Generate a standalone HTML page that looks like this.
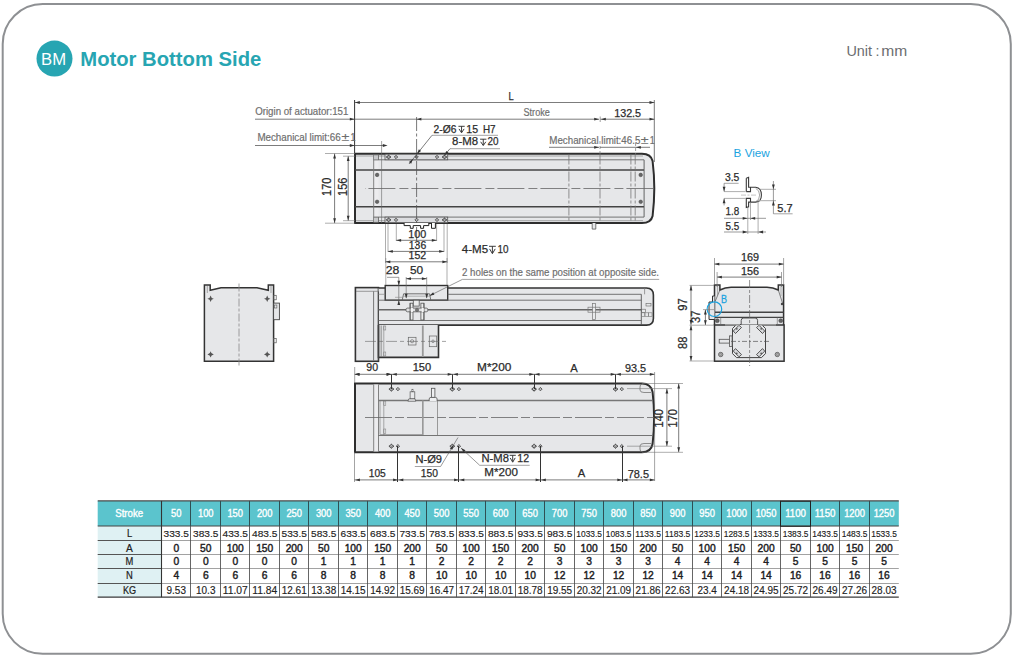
<!DOCTYPE html>
<html><head><meta charset="utf-8"><style>
html,body{margin:0;padding:0;background:#fff;width:1014px;height:658px;overflow:hidden;position:relative}
text{font-family:"Liberation Sans",sans-serif}
</style></head><body>
<svg width="1014" height="658" viewBox="0 0 1014 658" style="position:absolute;left:0;top:0">
<rect x="2.7" y="4.0" width="1008.1" height="649.8" rx="40" ry="40" fill="#fff" stroke="#8e9093" stroke-width="2"/>
<circle cx="54.5" cy="58.6" r="18" fill="#27a5b2"/>
<text x="53.6" y="64.6" font-family="Liberation Sans" font-size="16" fill="#fff" text-anchor="middle" font-weight="normal" textLength="25" lengthAdjust="spacingAndGlyphs" >BM</text>
<text x="80.3" y="65.8" font-family="Liberation Sans" font-size="20" fill="#27a5b2" text-anchor="start" font-weight="bold" textLength="181" lengthAdjust="spacingAndGlyphs" >Motor Bottom Side</text>
<text x="846.4" y="56" font-family="Liberation Sans" font-size="14.4" fill="#6b6d70" text-anchor="start" font-weight="normal" textLength="25.6" lengthAdjust="spacingAndGlyphs" >Unit</text>
<text x="877.6" y="56" font-family="Liberation Sans" font-size="14.2" fill="#6b6d70" text-anchor="middle" font-weight="normal" >:</text>
<text x="881.2" y="56" font-family="Liberation Sans" font-size="14.4" fill="#6b6d70" text-anchor="start" font-weight="normal" textLength="26" lengthAdjust="spacingAndGlyphs" >mm</text>
<path d="M355,153.8 H642 Q651,154 652.6,161 Q656,188.5 652.6,216 Q651,223 642,223.1 H355 Z" fill="#e6e7e9" stroke="#2e2e2e" stroke-width="2.0" />
<rect x="373.7" y="156" width="4.8" height="65" fill="#ececee" stroke="none" stroke-width="0"/>
<line x1="356" y1="156.0" x2="643" y2="156.0" stroke="#777" stroke-width="0.6" stroke-linecap="butt"/>
<line x1="373.4" y1="159.8" x2="644" y2="159.8" stroke="#666" stroke-width="0.9" stroke-linecap="butt"/>
<line x1="355" y1="170.0" x2="644" y2="170.0" stroke="#444" stroke-width="1.5" stroke-linecap="butt"/>
<line x1="355" y1="206.8" x2="644" y2="206.8" stroke="#444" stroke-width="1.5" stroke-linecap="butt"/>
<line x1="373.4" y1="217.1" x2="644" y2="217.1" stroke="#666" stroke-width="0.9" stroke-linecap="butt"/>
<line x1="356" y1="220.7" x2="643" y2="220.7" stroke="#777" stroke-width="0.6" stroke-linecap="butt"/>
<line x1="373.7" y1="155" x2="373.7" y2="222" stroke="#777" stroke-width="0.9" stroke-linecap="butt"/>
<rect x="373.7" y="155" width="4.8" height="4.8" fill="#c9cacc" stroke="#777" stroke-width="0.6"/>
<rect x="373.7" y="217.4" width="4.8" height="4.8" fill="#c9cacc" stroke="#777" stroke-width="0.6"/>
<line x1="378.5" y1="155" x2="378.5" y2="160" stroke="#666" stroke-width="0.7" stroke-linecap="butt"/>
<line x1="378.5" y1="217" x2="378.5" y2="222" stroke="#666" stroke-width="0.7" stroke-linecap="butt"/>
<line x1="644.1" y1="159.8" x2="644.1" y2="217.1" stroke="#555" stroke-width="0.9" stroke-linecap="butt"/>
<circle cx="377.1" cy="174.9" r="1.8" fill="#666" stroke="#444" stroke-width="0.5"/>
<circle cx="640.7" cy="174.9" r="1.8" fill="#666" stroke="#444" stroke-width="0.5"/>
<circle cx="377.1" cy="201.8" r="1.8" fill="#666" stroke="#444" stroke-width="0.5"/>
<circle cx="640.7" cy="201.8" r="1.8" fill="#666" stroke="#444" stroke-width="0.5"/>
<rect x="385" y="154.2" width="62.7" height="5.6" fill="#dcdde0" stroke="#555" stroke-width="0.8"/>
<rect x="385" y="217.1" width="62.7" height="5.6" fill="#dcdde0" stroke="#555" stroke-width="0.8"/>
<circle cx="388.6" cy="157.0" r="1.5" fill="none" stroke="#333" stroke-width="0.8"/>
<path d="M386.20000000000005,157.0 L387.1,156.4 M386.20000000000005,157.0 L387.1,157.6 M391.0,157.0 L390.1,156.4 M391.0,157.0 L390.1,157.6 M388.6,154.6 V155.5 M388.6,159.4 V158.5" stroke="#333" stroke-width="0.7"/>
<circle cx="388.6" cy="157.0" r="0.7" fill="#888"/>
<polygon points="396,155.3 397.7,157.0 396,158.7 394.3,157.0" fill="none" stroke="#333" stroke-width="0.8"/>
<circle cx="396" cy="157.0" r="0.9" fill="none" stroke="#777" stroke-width="0.5"/>
<polygon points="416.6,155.3 418.3,157.0 416.6,158.7 414.90000000000003,157.0" fill="none" stroke="#333" stroke-width="0.8"/>
<circle cx="416.6" cy="157.0" r="0.9" fill="none" stroke="#777" stroke-width="0.5"/>
<polygon points="437,155.3 438.7,157.0 437,158.7 435.3,157.0" fill="none" stroke="#333" stroke-width="0.8"/>
<circle cx="437" cy="157.0" r="0.9" fill="none" stroke="#777" stroke-width="0.5"/>
<circle cx="444.5" cy="157.0" r="1.5" fill="none" stroke="#333" stroke-width="0.8"/>
<path d="M442.1,157.0 L443.0,156.4 M442.1,157.0 L443.0,157.6 M446.9,157.0 L446.0,156.4 M446.9,157.0 L446.0,157.6 M444.5,154.6 V155.5 M444.5,159.4 V158.5" stroke="#333" stroke-width="0.7"/>
<circle cx="444.5" cy="157.0" r="0.7" fill="#888"/>
<circle cx="388.6" cy="219.9" r="1.5" fill="none" stroke="#333" stroke-width="0.8"/>
<path d="M386.20000000000005,219.9 L387.1,219.3 M386.20000000000005,219.9 L387.1,220.5 M391.0,219.9 L390.1,219.3 M391.0,219.9 L390.1,220.5 M388.6,217.5 V218.4 M388.6,222.3 V221.4" stroke="#333" stroke-width="0.7"/>
<circle cx="388.6" cy="219.9" r="0.7" fill="#888"/>
<polygon points="396,218.20000000000002 397.7,219.9 396,221.6 394.3,219.9" fill="none" stroke="#333" stroke-width="0.8"/>
<circle cx="396" cy="219.9" r="0.9" fill="none" stroke="#777" stroke-width="0.5"/>
<polygon points="416.6,218.20000000000002 418.3,219.9 416.6,221.6 414.90000000000003,219.9" fill="none" stroke="#333" stroke-width="0.8"/>
<circle cx="416.6" cy="219.9" r="0.9" fill="none" stroke="#777" stroke-width="0.5"/>
<polygon points="437,218.20000000000002 438.7,219.9 437,221.6 435.3,219.9" fill="none" stroke="#333" stroke-width="0.8"/>
<circle cx="437" cy="219.9" r="0.9" fill="none" stroke="#777" stroke-width="0.5"/>
<circle cx="444.5" cy="219.9" r="1.5" fill="none" stroke="#333" stroke-width="0.8"/>
<path d="M442.1,219.9 L443.0,219.3 M442.1,219.9 L443.0,220.5 M446.9,219.9 L446.0,219.3 M446.9,219.9 L446.0,220.5 M444.5,217.5 V218.4 M444.5,222.3 V221.4" stroke="#333" stroke-width="0.7"/>
<circle cx="444.5" cy="219.9" r="0.7" fill="#888"/>
<line x1="365" y1="188.5" x2="655" y2="188.5" stroke="#666" stroke-width="0.8" stroke-dasharray="27 4 9 3" stroke-dashoffset="39.6"/>
<line x1="416.6" y1="117" x2="416.6" y2="246" stroke="#555" stroke-width="0.8" stroke-dasharray="14 2.5 3 2.5" stroke-linecap="butt"/>
<line x1="568.9" y1="154.5" x2="568.9" y2="222.5" stroke="#777" stroke-width="0.8" stroke-dasharray="10 2 3 2" stroke-linecap="butt"/>
<line x1="600" y1="154.5" x2="600" y2="222.5" stroke="#777" stroke-width="0.8" stroke-dasharray="10 2 3 2" stroke-linecap="butt"/>
<line x1="630.9" y1="154.5" x2="630.9" y2="222.5" stroke="#777" stroke-width="0.8" stroke-dasharray="10 2 3 2" stroke-linecap="butt"/>
<line x1="635.2" y1="154.5" x2="635.2" y2="222.5" stroke="#777" stroke-width="0.8" stroke-dasharray="10 2 3 2" stroke-linecap="butt"/>
<line x1="381.6" y1="141" x2="381.6" y2="223" stroke="#666" stroke-width="0.6" stroke-linecap="butt"/>
<path d="M404.1,223 V225.6 H410.3 V228.3 H413.2 V225.6 H420.6 V228.3 H423.6 V225.6 H428.8 V223 M431.5,223 V228.3 H435.4 V223" fill="#fff" stroke="#222" stroke-width="1.0" />
<path d="M592.2,223 V229.1 H595.8 V223" fill="#e6e7e9" stroke="#555" stroke-width="0.8" />
<line x1="354.6" y1="100" x2="354.6" y2="154" stroke="#333" stroke-width="1.0" stroke-linecap="butt"/>
<line x1="654.3" y1="100" x2="654.3" y2="162" stroke="#555" stroke-width="0.8" stroke-linecap="butt"/>
<line x1="355" y1="102.5" x2="654.3" y2="102.5" stroke="#444" stroke-width="0.7" stroke-linecap="butt"/>
<polygon points="355.00,102.50 359.80,101.10 359.80,103.90" fill="#333"/>
<polygon points="654.30,102.50 649.50,101.10 649.50,103.90" fill="#333"/>
<text x="511" y="100.2" font-family="Liberation Sans" font-size="11" fill="#2b2b2b" text-anchor="middle" font-weight="normal" textLength="5.2" lengthAdjust="spacingAndGlyphs"  stroke="#2b2b2b" stroke-width="0.25">L</text>
<line x1="255" y1="119.2" x2="599" y2="119.2" stroke="#444" stroke-width="0.7" stroke-linecap="butt"/>
<polygon points="354.60,119.20 349.80,117.80 349.80,120.60" fill="#333"/>
<polygon points="416.60,119.20 421.40,117.80 421.40,120.60" fill="#333"/>
<polygon points="599.00,119.20 594.20,117.80 594.20,120.60" fill="#333"/>
<line x1="600.2" y1="116.5" x2="600.2" y2="122" stroke="#777" stroke-width="0.7" stroke-linecap="butt"/>
<line x1="600.5" y1="119.2" x2="654.3" y2="119.2" stroke="#444" stroke-width="0.7" stroke-linecap="butt"/>
<polygon points="601.00,119.20 605.80,117.80 605.80,120.60" fill="#333"/>
<polygon points="654.30,119.20 649.50,117.80 649.50,120.60" fill="#333"/>
<text x="523.5" y="115.9" font-family="Liberation Sans" font-size="10" fill="#6e6e6e" text-anchor="start" font-weight="normal" textLength="26.3" lengthAdjust="spacingAndGlyphs"  stroke="#6e6e6e" stroke-width="0.18">Stroke</text>
<text x="614.2" y="116.6" font-family="Liberation Sans" font-size="11" fill="#2b2b2b" text-anchor="start" font-weight="normal" textLength="26.9" lengthAdjust="spacingAndGlyphs"  stroke="#2b2b2b" stroke-width="0.25">132.5</text>
<text x="255.2" y="114.9" font-family="Liberation Sans" font-size="10" fill="#6e6e6e" text-anchor="start" font-weight="normal" textLength="93.2" lengthAdjust="spacingAndGlyphs"  stroke="#6e6e6e" stroke-width="0.18">Origin of actuator:151</text>
<line x1="255" y1="145.5" x2="383" y2="145.5" stroke="#444" stroke-width="0.7" stroke-linecap="butt"/>
<polygon points="354.60,145.50 349.80,144.10 349.80,146.90" fill="#333"/>
<polygon points="387.60,145.50 382.80,144.10 382.80,146.90" fill="#333"/>
<text x="257.4" y="140.7" font-family="Liberation Sans" font-size="10" fill="#6e6e6e" text-anchor="start" font-weight="normal" textLength="83.2" lengthAdjust="spacingAndGlyphs"  stroke="#6e6e6e" stroke-width="0.18">Mechanical limit:66</text>
<text x="341.6" y="140.7" font-family="Liberation Sans" font-size="11" fill="#6e6e6e" text-anchor="start" font-weight="normal" textLength="7.8" lengthAdjust="spacingAndGlyphs"  stroke="#6e6e6e" stroke-width="0.12">±</text>
<text x="350.6" y="140.7" font-family="Liberation Sans" font-size="10" fill="#6e6e6e" text-anchor="start" font-weight="normal" textLength="5" lengthAdjust="spacingAndGlyphs"  stroke="#6e6e6e" stroke-width="0.18">1</text>
<line x1="549" y1="147.3" x2="599" y2="147.3" stroke="#444" stroke-width="0.7" stroke-linecap="butt"/>
<polygon points="599.00,147.30 594.20,145.90 594.20,148.70" fill="#333"/>
<line x1="600" y1="141" x2="600" y2="154" stroke="#777" stroke-width="0.7" stroke-dasharray="3 2" stroke-linecap="butt"/>
<line x1="600" y1="147.3" x2="650" y2="147.3" stroke="#444" stroke-width="0.7" stroke-linecap="butt"/>
<polygon points="636.00,147.30 640.80,145.90 640.80,148.70" fill="#333"/>
<line x1="635.6" y1="143" x2="635.6" y2="154" stroke="#777" stroke-width="0.7" stroke-dasharray="3 2" stroke-linecap="butt"/>
<text x="549.3" y="143.6" font-family="Liberation Sans" font-size="10" fill="#6e6e6e" text-anchor="start" font-weight="normal" textLength="91" lengthAdjust="spacingAndGlyphs"  stroke="#6e6e6e" stroke-width="0.18">Mechanical limit:46.5</text>
<text x="640.7" y="143.6" font-family="Liberation Sans" font-size="11" fill="#6e6e6e" text-anchor="start" font-weight="normal" textLength="7.8" lengthAdjust="spacingAndGlyphs"  stroke="#6e6e6e" stroke-width="0.12">±</text>
<text x="649.8" y="143.6" font-family="Liberation Sans" font-size="10" fill="#6e6e6e" text-anchor="start" font-weight="normal" textLength="5" lengthAdjust="spacingAndGlyphs"  stroke="#6e6e6e" stroke-width="0.18">1</text>
<line x1="325" y1="153.5" x2="355" y2="153.5" stroke="#777" stroke-width="0.6" stroke-linecap="butt"/>
<line x1="325" y1="223.2" x2="355" y2="223.2" stroke="#777" stroke-width="0.6" stroke-linecap="butt"/>
<line x1="334.6" y1="153.7" x2="334.6" y2="223.1" stroke="#444" stroke-width="0.7" stroke-linecap="butt"/>
<polygon points="334.60,153.70 333.20,158.50 336.00,158.50" fill="#333"/>
<polygon points="334.60,223.10 333.20,218.30 336.00,218.30" fill="#333"/>
<line x1="343" y1="156.2" x2="355" y2="156.2" stroke="#777" stroke-width="0.6" stroke-linecap="butt"/>
<line x1="343" y1="220.7" x2="355" y2="220.7" stroke="#777" stroke-width="0.6" stroke-linecap="butt"/>
<line x1="348.2" y1="156.3" x2="348.2" y2="220.6" stroke="#444" stroke-width="0.7" stroke-linecap="butt"/>
<polygon points="348.20,156.30 346.80,161.10 349.60,161.10" fill="#333"/>
<polygon points="348.20,220.60 346.80,215.80 349.60,215.80" fill="#333"/>
<text x="331.5" y="186.8" font-family="Liberation Sans" font-size="12" fill="#2b2b2b" text-anchor="middle" font-weight="normal" textLength="18.4" lengthAdjust="spacingAndGlyphs" transform="rotate(-90 331.5 186.8)"  stroke="#2b2b2b" stroke-width="0.25">170</text>
<text x="347.2" y="186.8" font-family="Liberation Sans" font-size="12" fill="#2b2b2b" text-anchor="middle" font-weight="normal" textLength="18.4" lengthAdjust="spacingAndGlyphs" transform="rotate(-90 347.2 186.8)"  stroke="#2b2b2b" stroke-width="0.25">156</text>
<text x="433.6" y="132.6" font-family="Liberation Sans" font-size="11" fill="#2b2b2b" text-anchor="start" font-weight="normal" textLength="22.8" lengthAdjust="spacingAndGlyphs"  stroke="#2b2b2b" stroke-width="0.25">2-Ø6</text>
<path d="M458.4,126.3 H464.7 M461.54999999999995,126.3 V132.20000000000002 M459.0,128.9 L461.54999999999995,132.8 L464.09999999999997,128.9" fill="none" stroke="#333" stroke-width="0.95"/>
<text x="466.3" y="132.6" font-family="Liberation Sans" font-size="11" fill="#2b2b2b" text-anchor="start" font-weight="normal" textLength="11.8" lengthAdjust="spacingAndGlyphs"  stroke="#2b2b2b" stroke-width="0.25">15</text>
<text x="482.9" y="132.6" font-family="Liberation Sans" font-size="11" fill="#2b2b2b" text-anchor="start" font-weight="normal" textLength="12.6" lengthAdjust="spacingAndGlyphs"  stroke="#2b2b2b" stroke-width="0.25">H7</text>
<line x1="432" y1="135.3" x2="498" y2="135.3" stroke="#666" stroke-width="0.6" stroke-linecap="butt"/>
<line x1="432" y1="135.3" x2="409" y2="164" stroke="#444" stroke-width="0.7" stroke-linecap="butt"/>
<polygon points="417.00,154.00 418.85,149.36 421.06,151.08" fill="#333"/>
<polygon points="413.00,159.00 411.15,163.64 408.94,161.92" fill="#333"/>
<text x="452.1" y="145.3" font-family="Liberation Sans" font-size="11.5" fill="#2b2b2b" text-anchor="start" font-weight="normal" textLength="26" lengthAdjust="spacingAndGlyphs"  stroke="#2b2b2b" stroke-width="0.25">8-M8</text>
<path d="M480.1,139.2 H486.4 M483.25,139.2 V145.0 M480.70000000000005,141.79999999999998 L483.25,145.6 L485.79999999999995,141.79999999999998" fill="none" stroke="#333" stroke-width="0.95"/>
<text x="487.6" y="145.3" font-family="Liberation Sans" font-size="11.5" fill="#2b2b2b" text-anchor="start" font-weight="normal" textLength="11" lengthAdjust="spacingAndGlyphs"  stroke="#2b2b2b" stroke-width="0.25">20</text>
<line x1="450" y1="148.7" x2="500" y2="148.7" stroke="#666" stroke-width="0.6" stroke-linecap="butt"/>
<line x1="450" y1="148.7" x2="444.3" y2="155.5" stroke="#444" stroke-width="0.7" stroke-linecap="butt"/>
<polygon points="444.30,155.50 446.31,150.92 448.46,152.72" fill="#333"/>
<line x1="396.3" y1="224" x2="396.3" y2="241" stroke="#777" stroke-width="0.6" stroke-linecap="butt"/>
<line x1="436.6" y1="224" x2="436.6" y2="241" stroke="#777" stroke-width="0.6" stroke-linecap="butt"/>
<line x1="388" y1="224" x2="388" y2="252" stroke="#777" stroke-width="0.6" stroke-linecap="butt"/>
<line x1="444" y1="224" x2="444" y2="252" stroke="#777" stroke-width="0.6" stroke-linecap="butt"/>
<line x1="385.5" y1="224" x2="385.5" y2="263" stroke="#777" stroke-width="0.6" stroke-linecap="butt"/>
<line x1="447.2" y1="224" x2="447.2" y2="263" stroke="#777" stroke-width="0.6" stroke-linecap="butt"/>
<line x1="396.3" y1="240.3" x2="436.6" y2="240.3" stroke="#444" stroke-width="0.7" stroke-linecap="butt"/>
<polygon points="396.30,240.30 401.10,238.90 401.10,241.70" fill="#333"/>
<polygon points="436.60,240.30 431.80,238.90 431.80,241.70" fill="#333"/>
<line x1="388" y1="251.4" x2="444" y2="251.4" stroke="#444" stroke-width="0.7" stroke-linecap="butt"/>
<polygon points="388.00,251.40 392.80,250.00 392.80,252.80" fill="#333"/>
<polygon points="444.00,251.40 439.20,250.00 439.20,252.80" fill="#333"/>
<line x1="385.5" y1="261.8" x2="447.2" y2="261.8" stroke="#444" stroke-width="0.7" stroke-linecap="butt"/>
<polygon points="385.50,261.80 390.30,260.40 390.30,263.20" fill="#333"/>
<polygon points="447.20,261.80 442.40,260.40 442.40,263.20" fill="#333"/>
<text x="408.2" y="237.8" font-family="Liberation Sans" font-size="11" fill="#2b2b2b" text-anchor="start" font-weight="normal" textLength="18" lengthAdjust="spacingAndGlyphs"  stroke="#2b2b2b" stroke-width="0.25">100</text>
<text x="408.8" y="249.2" font-family="Liberation Sans" font-size="11" fill="#2b2b2b" text-anchor="start" font-weight="normal" textLength="17.4" lengthAdjust="spacingAndGlyphs"  stroke="#2b2b2b" stroke-width="0.25">136</text>
<text x="408.5" y="258.8" font-family="Liberation Sans" font-size="11" fill="#2b2b2b" text-anchor="start" font-weight="normal" textLength="17.7" lengthAdjust="spacingAndGlyphs"  stroke="#2b2b2b" stroke-width="0.25">152</text>
<text x="461.8" y="252.8" font-family="Liberation Sans" font-size="11.5" fill="#2b2b2b" text-anchor="start" font-weight="normal" textLength="26.3" lengthAdjust="spacingAndGlyphs"  stroke="#2b2b2b" stroke-width="0.25">4-M5</text>
<path d="M489,246.3 H495.8 M492.4,246.3 V253.1 M489.6,248.9 L492.4,253.7 L495.2,248.9" fill="none" stroke="#333" stroke-width="0.95"/>
<text x="497.6" y="252.8" font-family="Liberation Sans" font-size="11.5" fill="#2b2b2b" text-anchor="start" font-weight="normal" textLength="11" lengthAdjust="spacingAndGlyphs"  stroke="#2b2b2b" stroke-width="0.25">10</text>
<rect x="355.4" y="287.6" width="23.1" height="73.7" fill="#e6e7e9" stroke="#333" stroke-width="1.6"/>
<path d="M378.5,288 H646.5 Q653.4,288.2 653.4,295 V318.5 Q653.4,325 646.5,325.1 H378.5" fill="#e6e7e9" stroke="#333" stroke-width="1.6" />
<path d="M378.5,325.1 V357.4 H438.5 V325.1" fill="#e6e7e9" stroke="#333" stroke-width="1.6" />
<rect x="385.2" y="285.5" width="62.5" height="14.7" fill="#e6e7e9" stroke="#333" stroke-width="1.4"/>
<path d="M402.2,300.2 L403.6,293.8 H429.6 L430.8,300.2" fill="none" stroke="#555" stroke-width="0.8" />
<line x1="403.2" y1="296.2" x2="430.2" y2="296.2" stroke="#888" stroke-width="0.6" stroke-linecap="butt"/>
<line x1="373.6" y1="291.3" x2="373.6" y2="361" stroke="#777" stroke-width="1.0" stroke-linecap="butt"/>
<line x1="378.5" y1="291.3" x2="378.5" y2="361" stroke="#444" stroke-width="0.9" stroke-linecap="butt"/>
<line x1="356" y1="291.3" x2="378.5" y2="291.3" stroke="#777" stroke-width="0.7" stroke-linecap="butt"/>
<line x1="378.5" y1="294.3" x2="385.2" y2="294.3" stroke="#888" stroke-width="0.7" stroke-linecap="butt"/>
<line x1="447.7" y1="294.3" x2="641.3" y2="294.3" stroke="#666" stroke-width="0.9" stroke-linecap="butt"/>
<line x1="378.5" y1="300.2" x2="641.3" y2="300.2" stroke="#666" stroke-width="0.9" stroke-linecap="butt"/>
<line x1="378.5" y1="309.8" x2="641.3" y2="309.8" stroke="#666" stroke-width="1.6" stroke-linecap="butt"/>
<line x1="378.5" y1="320.5" x2="641.3" y2="320.5" stroke="#666" stroke-width="0.9" stroke-linecap="butt"/>
<line x1="641.3" y1="294.3" x2="641.3" y2="325" stroke="#555" stroke-width="0.9" stroke-linecap="butt"/>
<line x1="644.6" y1="288" x2="644.6" y2="294.3" stroke="#777" stroke-width="0.7" stroke-linecap="butt"/>
<rect x="646" y="303.4" width="5" height="2.6" fill="none" stroke="#666" stroke-width="0.6"/>
<rect x="641.3" y="309.2" width="4" height="3.2" fill="none" stroke="#666" stroke-width="0.6"/>
<rect x="641.3" y="312.8" width="3.5" height="3.6" fill="none" stroke="#777" stroke-width="0.6"/>
<rect x="645" y="312.8" width="3.5" height="3.6" fill="none" stroke="#777" stroke-width="0.6"/>
<rect x="648.5" y="312.8" width="3.5" height="3.6" fill="none" stroke="#777" stroke-width="0.6"/>
<rect x="410.1" y="303.2" width="2.9" height="16.8" fill="#eceded" stroke="#555" stroke-width="0.8"/>
<rect x="420.9" y="303.2" width="3.0" height="16.8" fill="#eceded" stroke="#555" stroke-width="0.8"/>
<rect x="413.3" y="300.2" width="5.9" height="5.9" fill="#eceded" stroke="#555" stroke-width="0.8"/>
<rect x="406" y="308.1" width="21.8" height="3.7" fill="#e0e1e3" stroke="#555" stroke-width="0.8" rx="1.5"/>
<line x1="410.1" y1="303.2" x2="410.1" y2="320" stroke="#555" stroke-width="0.8" stroke-linecap="butt"/>
<line x1="424" y1="303.2" x2="424" y2="320" stroke="#555" stroke-width="0.8" stroke-linecap="butt"/>
<rect x="410.9" y="307.9" width="2" height="4.1" fill="#f4f4f4" stroke="none" stroke-width="0"/>
<rect x="421.7" y="307.9" width="2" height="4.1" fill="#f4f4f4" stroke="none" stroke-width="0"/>
<circle cx="417" cy="309.9" r="1.7" fill="#777" stroke="#555" stroke-width="0.5"/>
<rect x="592.5" y="303.4" width="3.1" height="16.1" fill="#e9eaec" stroke="#777" stroke-width="0.7"/>
<rect x="588" y="307.2" width="12" height="5" fill="none" stroke="#777" stroke-width="0.7"/>
<line x1="422.8" y1="325.5" x2="422.8" y2="357" stroke="#999" stroke-width="1.8" stroke-linecap="butt"/>
<line x1="380" y1="325.5" x2="380" y2="357" stroke="#777" stroke-width="0.6" stroke-linecap="butt"/>
<line x1="381.6" y1="325.5" x2="381.6" y2="357" stroke="#777" stroke-width="0.6" stroke-linecap="butt"/>
<line x1="383.8" y1="325.5" x2="383.8" y2="357" stroke="#777" stroke-width="0.6" stroke-linecap="butt"/>
<rect x="383.8" y="326" width="2" height="4" fill="none" stroke="#777" stroke-width="0.5"/>
<rect x="383.8" y="352" width="2" height="4" fill="none" stroke="#777" stroke-width="0.5"/>
<line x1="365" y1="341.4" x2="446" y2="341.4" stroke="#666" stroke-width="0.6" stroke-dasharray="11 3 4 3" stroke-linecap="butt"/>
<rect x="408.3" y="337.3" width="7.7" height="7.7" fill="none" stroke="#666" stroke-width="0.7"/>
<circle cx="412.1" cy="341.2" r="1.6" fill="none" stroke="#666" stroke-width="0.6"/>
<rect x="429.3" y="336" width="7.4" height="10.7" fill="none" stroke="#666" stroke-width="0.7"/>
<circle cx="433" cy="341.3" r="1.3" fill="none" stroke="#666" stroke-width="0.6"/>
<text x="385.8" y="273.7" font-family="Liberation Sans" font-size="11" fill="#2b2b2b" text-anchor="start" font-weight="normal" textLength="13.6" lengthAdjust="spacingAndGlyphs"  stroke="#2b2b2b" stroke-width="0.25">28</text>
<text x="409.9" y="273.7" font-family="Liberation Sans" font-size="11" fill="#2b2b2b" text-anchor="start" font-weight="normal" textLength="13.2" lengthAdjust="spacingAndGlyphs"  stroke="#2b2b2b" stroke-width="0.25">50</text>
<line x1="387" y1="277.3" x2="398.8" y2="277.3" stroke="#555" stroke-width="0.6" stroke-linecap="butt"/>
<line x1="398.8" y1="277.3" x2="398.8" y2="304" stroke="#555" stroke-width="0.6" stroke-linecap="butt"/>
<polygon points="398.80,285.50 397.40,280.70 400.20,280.70" fill="#333"/>
<polygon points="398.80,300.20 397.40,305.00 400.20,305.00" fill="#333"/>
<line x1="406.2" y1="277" x2="406.2" y2="298" stroke="#666" stroke-width="0.6" stroke-linecap="butt"/>
<line x1="426.7" y1="277" x2="426.7" y2="298" stroke="#666" stroke-width="0.6" stroke-linecap="butt"/>
<line x1="406.2" y1="278.7" x2="426.7" y2="278.7" stroke="#444" stroke-width="0.7" stroke-linecap="butt"/>
<polygon points="406.20,278.70 411.00,277.30 411.00,280.10" fill="#333"/>
<polygon points="426.70,278.70 421.90,277.30 421.90,280.10" fill="#333"/>
<polygon points="406.20,298.50 404.80,293.70 407.60,293.70" fill="#333"/>
<polygon points="426.70,298.50 425.30,293.70 428.10,293.70" fill="#333"/>
<line x1="395" y1="297.3" x2="403" y2="297.3" stroke="#888" stroke-width="0.6" stroke-linecap="butt"/>
<text x="462" y="275.8" font-family="Liberation Sans" font-size="10" fill="#6e6e6e" text-anchor="start" font-weight="normal" textLength="197" lengthAdjust="spacingAndGlyphs"  stroke="#6e6e6e" stroke-width="0.18">2 holes on the same position at opposite side.</text>
<line x1="462.4" y1="279.4" x2="659.2" y2="279.4" stroke="#666" stroke-width="0.6" stroke-linecap="butt"/>
<line x1="462.4" y1="279.4" x2="430" y2="295.5" stroke="#555" stroke-width="0.6" stroke-linecap="butt"/>
<polygon points="429.50,295.80 433.14,292.37 434.41,294.87" fill="#333"/>
<line x1="385.8" y1="258" x2="385.8" y2="285" stroke="#777" stroke-width="0.6" stroke-linecap="butt"/>
<line x1="447" y1="258" x2="447" y2="285" stroke="#777" stroke-width="0.6" stroke-linecap="butt"/>
<path d="M355,383.5 H642 Q651,383.6 652.6,392 Q655.6,418 652.6,444 Q651,452.2 642,452.3 H355 Z" fill="#e6e7e9" stroke="#2e2e2e" stroke-width="2.0" />
<rect x="373.7" y="384.5" width="4.8" height="67" fill="#ececee" stroke="none" stroke-width="0"/>
<line x1="373.7" y1="384.5" x2="373.7" y2="451.5" stroke="#777" stroke-width="0.9" stroke-linecap="butt"/>
<line x1="378.5" y1="384.5" x2="378.5" y2="451.5" stroke="#666" stroke-width="0.8" stroke-linecap="butt"/>
<line x1="378.5" y1="400.5" x2="652" y2="400.5" stroke="#777" stroke-width="1.3" stroke-linecap="butt"/>
<line x1="378.5" y1="435.5" x2="652" y2="435.5" stroke="#666" stroke-width="0.9" stroke-linecap="butt"/>
<line x1="365" y1="417.5" x2="662" y2="417.5" stroke="#666" stroke-width="0.8" stroke-dasharray="27 3 9 3" stroke-linecap="butt"/>
<rect x="380" y="400.3" width="42.8" height="34.2" fill="none" stroke="#777" stroke-width="0.6"/>
<line x1="422.8" y1="400.5" x2="422.8" y2="435" stroke="#999" stroke-width="1.6" stroke-linecap="butt"/>
<line x1="437.5" y1="400.5" x2="437.5" y2="435" stroke="#777" stroke-width="0.7" stroke-linecap="butt"/>
<line x1="383.8" y1="400.5" x2="383.8" y2="435" stroke="#777" stroke-width="0.6" stroke-linecap="butt"/>
<rect x="383.8" y="401" width="2" height="4.5" fill="none" stroke="#777" stroke-width="0.5"/>
<rect x="383.8" y="429" width="2" height="4.5" fill="none" stroke="#777" stroke-width="0.5"/>
<rect x="410.1" y="391.8" width="4.7" height="7.1" fill="#e9eaec" stroke="#555" stroke-width="0.7"/>
<rect x="411.8" y="389.2" width="1.3" height="2.6" fill="none" stroke="#666" stroke-width="0.5"/>
<path d="M407.9,401.2 L408.8,398.9 H415 L415.8,401.2 Z" fill="#f0f0f2" stroke="#555" stroke-width="0.7" />
<rect x="431.4" y="388.3" width="3.5" height="9.1" fill="#eeeff1" stroke="#555" stroke-width="0.8"/>
<path d="M429.2,401 V399 Q429.2,397.4 431,397.4 H435.3 Q437.1,397.4 437.1,399 V401" fill="#eeeff1" stroke="#555" stroke-width="0.8" />
<path d="M642,384 Q640,384 640,387 V390 Q640,392.5 644,392.5 H651" fill="none" stroke="#666" stroke-width="0.7" />
<path d="M642,451.8 Q640,451.8 640,449 V446 Q640,443.5 644,443.5 H651" fill="none" stroke="#666" stroke-width="0.7" />
<circle cx="391.4" cy="389.1" r="1.6" fill="none" stroke="#333" stroke-width="0.8"/>
<path d="M388.9,389.1 L389.79999999999995,388.5 M388.9,389.1 L389.79999999999995,389.70000000000005 M393.9,389.1 L393.0,388.5 M393.9,389.1 L393.0,389.70000000000005 M391.4,386.6 V387.5 M391.4,391.6 V390.70000000000005" stroke="#333" stroke-width="0.7"/>
<circle cx="391.4" cy="389.1" r="0.7" fill="#888"/>
<circle cx="452.3" cy="389.1" r="1.6" fill="none" stroke="#333" stroke-width="0.8"/>
<path d="M449.8,389.1 L450.7,388.5 M449.8,389.1 L450.7,389.70000000000005 M454.8,389.1 L453.90000000000003,388.5 M454.8,389.1 L453.90000000000003,389.70000000000005 M452.3,386.6 V387.5 M452.3,391.6 V390.70000000000005" stroke="#333" stroke-width="0.7"/>
<circle cx="452.3" cy="389.1" r="0.7" fill="#888"/>
<circle cx="534.1" cy="389.1" r="1.6" fill="none" stroke="#333" stroke-width="0.8"/>
<path d="M531.6,389.1 L532.5,388.5 M531.6,389.1 L532.5,389.70000000000005 M536.6,389.1 L535.7,388.5 M536.6,389.1 L535.7,389.70000000000005 M534.1,386.6 V387.5 M534.1,391.6 V390.70000000000005" stroke="#333" stroke-width="0.7"/>
<circle cx="534.1" cy="389.1" r="0.7" fill="#888"/>
<circle cx="615.5" cy="389.1" r="1.6" fill="none" stroke="#333" stroke-width="0.8"/>
<path d="M613.0,389.1 L613.9,388.5 M613.0,389.1 L613.9,389.70000000000005 M618.0,389.1 L617.1,388.5 M618.0,389.1 L617.1,389.70000000000005 M615.5,386.6 V387.5 M615.5,391.6 V390.70000000000005" stroke="#333" stroke-width="0.7"/>
<circle cx="615.5" cy="389.1" r="0.7" fill="#888"/>
<polygon points="397.9,387.40000000000003 399.59999999999997,389.1 397.9,390.8 396.2,389.1" fill="none" stroke="#333" stroke-width="0.8"/>
<circle cx="397.9" cy="389.1" r="0.9" fill="none" stroke="#777" stroke-width="0.5"/>
<polygon points="458.9,387.40000000000003 460.59999999999997,389.1 458.9,390.8 457.2,389.1" fill="none" stroke="#333" stroke-width="0.8"/>
<circle cx="458.9" cy="389.1" r="0.9" fill="none" stroke="#777" stroke-width="0.5"/>
<polygon points="540.4,387.40000000000003 542.1,389.1 540.4,390.8 538.6999999999999,389.1" fill="none" stroke="#333" stroke-width="0.8"/>
<circle cx="540.4" cy="389.1" r="0.9" fill="none" stroke="#777" stroke-width="0.5"/>
<polygon points="621.8,387.40000000000003 623.5,389.1 621.8,390.8 620.0999999999999,389.1" fill="none" stroke="#333" stroke-width="0.8"/>
<circle cx="621.8" cy="389.1" r="0.9" fill="none" stroke="#777" stroke-width="0.5"/>
<circle cx="391.4" cy="446.2" r="1.6" fill="none" stroke="#333" stroke-width="0.8"/>
<path d="M388.9,446.2 L389.79999999999995,445.59999999999997 M388.9,446.2 L389.79999999999995,446.8 M393.9,446.2 L393.0,445.59999999999997 M393.9,446.2 L393.0,446.8 M391.4,443.7 V444.59999999999997 M391.4,448.7 V447.8" stroke="#333" stroke-width="0.7"/>
<circle cx="391.4" cy="446.2" r="0.7" fill="#888"/>
<circle cx="452.3" cy="446.2" r="1.6" fill="none" stroke="#333" stroke-width="0.8"/>
<path d="M449.8,446.2 L450.7,445.59999999999997 M449.8,446.2 L450.7,446.8 M454.8,446.2 L453.90000000000003,445.59999999999997 M454.8,446.2 L453.90000000000003,446.8 M452.3,443.7 V444.59999999999997 M452.3,448.7 V447.8" stroke="#333" stroke-width="0.7"/>
<circle cx="452.3" cy="446.2" r="0.7" fill="#888"/>
<circle cx="534.1" cy="446.2" r="1.6" fill="none" stroke="#333" stroke-width="0.8"/>
<path d="M531.6,446.2 L532.5,445.59999999999997 M531.6,446.2 L532.5,446.8 M536.6,446.2 L535.7,445.59999999999997 M536.6,446.2 L535.7,446.8 M534.1,443.7 V444.59999999999997 M534.1,448.7 V447.8" stroke="#333" stroke-width="0.7"/>
<circle cx="534.1" cy="446.2" r="0.7" fill="#888"/>
<circle cx="615.5" cy="446.2" r="1.6" fill="none" stroke="#333" stroke-width="0.8"/>
<path d="M613.0,446.2 L613.9,445.59999999999997 M613.0,446.2 L613.9,446.8 M618.0,446.2 L617.1,445.59999999999997 M618.0,446.2 L617.1,446.8 M615.5,443.7 V444.59999999999997 M615.5,448.7 V447.8" stroke="#333" stroke-width="0.7"/>
<circle cx="615.5" cy="446.2" r="0.7" fill="#888"/>
<polygon points="397.9,444.5 399.59999999999997,446.2 397.9,447.9 396.2,446.2" fill="none" stroke="#333" stroke-width="0.8"/>
<circle cx="397.9" cy="446.2" r="0.9" fill="none" stroke="#777" stroke-width="0.5"/>
<polygon points="458.9,444.5 460.59999999999997,446.2 458.9,447.9 457.2,446.2" fill="none" stroke="#333" stroke-width="0.8"/>
<circle cx="458.9" cy="446.2" r="0.9" fill="none" stroke="#777" stroke-width="0.5"/>
<polygon points="540.4,444.5 542.1,446.2 540.4,447.9 538.6999999999999,446.2" fill="none" stroke="#333" stroke-width="0.8"/>
<circle cx="540.4" cy="446.2" r="0.9" fill="none" stroke="#777" stroke-width="0.5"/>
<polygon points="621.8,444.5 623.5,446.2 621.8,447.9 620.0999999999999,446.2" fill="none" stroke="#333" stroke-width="0.8"/>
<circle cx="621.8" cy="446.2" r="0.9" fill="none" stroke="#777" stroke-width="0.5"/>
<line x1="354.7" y1="374.3" x2="391.4" y2="374.3" stroke="#444" stroke-width="0.7" stroke-linecap="butt"/>
<polygon points="354.70,374.30 359.50,372.90 359.50,375.70" fill="#333"/>
<polygon points="391.40,374.30 386.60,372.90 386.60,375.70" fill="#333"/>
<polygon points="391.40,374.30 386.60,372.90 386.60,375.70" fill="#333"/>
<polygon points="354.70,374.30 359.50,372.90 359.50,375.70" fill="#333"/>
<line x1="391.4" y1="374.3" x2="452.5" y2="374.3" stroke="#444" stroke-width="0.7" stroke-linecap="butt"/>
<polygon points="392.00,374.30 396.80,372.90 396.80,375.70" fill="#333"/>
<polygon points="452.50,374.30 447.70,372.90 447.70,375.70" fill="#333"/>
<line x1="452.5" y1="374.3" x2="534.1" y2="374.3" stroke="#444" stroke-width="0.7" stroke-linecap="butt"/>
<polygon points="453.10,374.30 457.90,372.90 457.90,375.70" fill="#333"/>
<polygon points="534.10,374.30 529.30,372.90 529.30,375.70" fill="#333"/>
<line x1="534.1" y1="374.3" x2="615.5" y2="374.3" stroke="#444" stroke-width="0.7" stroke-linecap="butt"/>
<polygon points="534.70,374.30 539.50,372.90 539.50,375.70" fill="#333"/>
<polygon points="615.50,374.30 610.70,372.90 610.70,375.70" fill="#333"/>
<line x1="615.5" y1="374.3" x2="654.6" y2="374.3" stroke="#444" stroke-width="0.7" stroke-linecap="butt"/>
<polygon points="616.10,374.30 620.90,372.90 620.90,375.70" fill="#333"/>
<polygon points="654.60,374.30 649.80,372.90 649.80,375.70" fill="#333"/>
<line x1="354.7" y1="367" x2="354.7" y2="383" stroke="#666" stroke-width="0.6" stroke-linecap="butt"/>
<line x1="391.5" y1="374.3" x2="391.5" y2="389" stroke="#333" stroke-width="1.0" stroke-linecap="butt"/>
<line x1="452.5" y1="374.3" x2="452.5" y2="389" stroke="#333" stroke-width="1.0" stroke-linecap="butt"/>
<line x1="534.5" y1="374.3" x2="534.5" y2="389" stroke="#333" stroke-width="1.0" stroke-linecap="butt"/>
<line x1="615.5" y1="374.3" x2="615.5" y2="389" stroke="#333" stroke-width="1.0" stroke-linecap="butt"/>
<line x1="654.6" y1="372" x2="654.6" y2="481" stroke="#666" stroke-width="0.6" stroke-linecap="butt"/>
<text x="366.3" y="370.7" font-family="Liberation Sans" font-size="11" fill="#2b2b2b" text-anchor="start" font-weight="normal" textLength="11.8" lengthAdjust="spacingAndGlyphs"  stroke="#2b2b2b" stroke-width="0.25">90</text>
<text x="412.7" y="370.7" font-family="Liberation Sans" font-size="11" fill="#2b2b2b" text-anchor="start" font-weight="normal" textLength="18.5" lengthAdjust="spacingAndGlyphs"  stroke="#2b2b2b" stroke-width="0.25">150</text>
<text x="477.1" y="370.8" font-family="Liberation Sans" font-size="11" fill="#2b2b2b" text-anchor="start" font-weight="normal" textLength="34.2" lengthAdjust="spacingAndGlyphs"  stroke="#2b2b2b" stroke-width="0.25">M*200</text>
<text x="574" y="371.5" font-family="Liberation Sans" font-size="11" fill="#2b2b2b" text-anchor="middle" font-weight="normal" textLength="7.5" lengthAdjust="spacingAndGlyphs"  stroke="#2b2b2b" stroke-width="0.25">A</text>
<text x="625" y="371.8" font-family="Liberation Sans" font-size="11" fill="#2b2b2b" text-anchor="start" font-weight="normal" textLength="21.1" lengthAdjust="spacingAndGlyphs"  stroke="#2b2b2b" stroke-width="0.25">93.5</text>
<line x1="397.5" y1="446" x2="397.5" y2="482" stroke="#333" stroke-width="1.0" stroke-linecap="butt"/>
<line x1="458.5" y1="446" x2="458.5" y2="482" stroke="#333" stroke-width="1.0" stroke-linecap="butt"/>
<line x1="540.5" y1="446" x2="540.5" y2="482" stroke="#333" stroke-width="1.0" stroke-linecap="butt"/>
<line x1="622.5" y1="446" x2="622.5" y2="482" stroke="#333" stroke-width="1.0" stroke-linecap="butt"/>
<line x1="354.5" y1="452" x2="354.5" y2="482" stroke="#666" stroke-width="0.6" stroke-linecap="butt"/>
<line x1="354.5" y1="479.9" x2="654.6" y2="479.9" stroke="#444" stroke-width="0.7" stroke-linecap="butt"/>
<polygon points="355.10,479.90 359.90,478.50 359.90,481.30" fill="#333"/>
<polygon points="397.90,479.90 393.10,478.50 393.10,481.30" fill="#333"/>
<polygon points="398.50,479.90 403.30,478.50 403.30,481.30" fill="#333"/>
<polygon points="458.90,479.90 454.10,478.50 454.10,481.30" fill="#333"/>
<polygon points="459.50,479.90 464.30,478.50 464.30,481.30" fill="#333"/>
<polygon points="540.40,479.90 535.60,478.50 535.60,481.30" fill="#333"/>
<polygon points="541.00,479.90 545.80,478.50 545.80,481.30" fill="#333"/>
<polygon points="622.10,479.90 617.30,478.50 617.30,481.30" fill="#333"/>
<polygon points="622.70,479.90 627.50,478.50 627.50,481.30" fill="#333"/>
<polygon points="654.60,479.90 649.80,478.50 649.80,481.30" fill="#333"/>
<text x="368.7" y="476.8" font-family="Liberation Sans" font-size="11" fill="#2b2b2b" text-anchor="start" font-weight="normal" textLength="17.1" lengthAdjust="spacingAndGlyphs"  stroke="#2b2b2b" stroke-width="0.25">105</text>
<text x="420.7" y="476.8" font-family="Liberation Sans" font-size="11" fill="#2b2b2b" text-anchor="start" font-weight="normal" textLength="17.2" lengthAdjust="spacingAndGlyphs"  stroke="#2b2b2b" stroke-width="0.25">150</text>
<text x="484.3" y="476" font-family="Liberation Sans" font-size="11" fill="#2b2b2b" text-anchor="start" font-weight="normal" textLength="33.6" lengthAdjust="spacingAndGlyphs"  stroke="#2b2b2b" stroke-width="0.25">M*200</text>
<text x="581.6" y="476.6" font-family="Liberation Sans" font-size="11" fill="#2b2b2b" text-anchor="middle" font-weight="normal" textLength="7.5" lengthAdjust="spacingAndGlyphs"  stroke="#2b2b2b" stroke-width="0.25">A</text>
<text x="627.7" y="477.6" font-family="Liberation Sans" font-size="11" fill="#2b2b2b" text-anchor="start" font-weight="normal" textLength="21.3" lengthAdjust="spacingAndGlyphs"  stroke="#2b2b2b" stroke-width="0.25">78.5</text>
<text x="415.4" y="462.9" font-family="Liberation Sans" font-size="11" fill="#2b2b2b" text-anchor="start" font-weight="normal" textLength="26.6" lengthAdjust="spacingAndGlyphs"  stroke="#2b2b2b" stroke-width="0.25">N-Ø9</text>
<line x1="414.8" y1="466.5" x2="440.6" y2="466.5" stroke="#666" stroke-width="0.6" stroke-linecap="butt"/>
<line x1="440.6" y1="466.5" x2="458" y2="437.5" stroke="#555" stroke-width="0.6" stroke-linecap="butt"/>
<polygon points="453.50,445.00 452.31,449.86 449.89,448.46" fill="#333"/>
<text x="481.5" y="461.9" font-family="Liberation Sans" font-size="11" fill="#2b2b2b" text-anchor="start" font-weight="normal" textLength="27.5" lengthAdjust="spacingAndGlyphs"  stroke="#2b2b2b" stroke-width="0.25">N-M8</text>
<path d="M509.6,455.3 H515.8 M512.7,455.3 V461.59999999999997 M510.20000000000005,457.90000000000003 L512.7,462.2 L515.1999999999999,457.90000000000003" fill="none" stroke="#333" stroke-width="0.95"/>
<text x="517.3" y="461.9" font-family="Liberation Sans" font-size="11" fill="#2b2b2b" text-anchor="start" font-weight="normal" textLength="11.8" lengthAdjust="spacingAndGlyphs"  stroke="#2b2b2b" stroke-width="0.25">12</text>
<line x1="479.7" y1="465.3" x2="529.7" y2="465.3" stroke="#666" stroke-width="0.6" stroke-linecap="butt"/>
<line x1="479.7" y1="465.3" x2="461" y2="448" stroke="#555" stroke-width="0.6" stroke-linecap="butt"/>
<polygon points="461.00,448.00 465.47,450.25 463.56,452.30" fill="#333"/>
<line x1="627" y1="388.6" x2="672" y2="388.6" stroke="#777" stroke-width="0.6" stroke-linecap="butt"/>
<line x1="627" y1="446.2" x2="672" y2="446.2" stroke="#777" stroke-width="0.6" stroke-linecap="butt"/>
<line x1="642" y1="383.5" x2="683" y2="383.5" stroke="#777" stroke-width="0.6" stroke-linecap="butt"/>
<line x1="642" y1="452.3" x2="683" y2="452.3" stroke="#777" stroke-width="0.6" stroke-linecap="butt"/>
<line x1="666.9" y1="388.8" x2="666.9" y2="446.1" stroke="#444" stroke-width="0.7" stroke-linecap="butt"/>
<polygon points="666.90,388.80 665.50,393.60 668.30,393.60" fill="#333"/>
<polygon points="666.90,446.10 665.50,441.30 668.30,441.30" fill="#333"/>
<line x1="678.7" y1="383.7" x2="678.7" y2="452.1" stroke="#444" stroke-width="0.7" stroke-linecap="butt"/>
<polygon points="678.70,383.70 677.30,388.50 680.10,388.50" fill="#333"/>
<polygon points="678.70,452.10 677.30,447.30 680.10,447.30" fill="#333"/>
<text x="663.5" y="418.3" font-family="Liberation Sans" font-size="12" fill="#2b2b2b" text-anchor="middle" font-weight="normal" textLength="18.4" lengthAdjust="spacingAndGlyphs" transform="rotate(-90 663.5 418.3)"  stroke="#2b2b2b" stroke-width="0.25">140</text>
<text x="677" y="418.3" font-family="Liberation Sans" font-size="12" fill="#2b2b2b" text-anchor="middle" font-weight="normal" textLength="18.4" lengthAdjust="spacingAndGlyphs" transform="rotate(-90 677 418.3)"  stroke="#2b2b2b" stroke-width="0.25">170</text>
<path d="M204.4,361.3 V285.1 H210.2 V290.2 L221,287.7 H257 L268.3,290.2 V285.1 H273.6 V361.3 Z" fill="#e6e7e9" stroke="#333" stroke-width="1.5" />
<line x1="207.3" y1="286" x2="207.3" y2="293" stroke="#777" stroke-width="0.6" stroke-linecap="butt"/>
<line x1="271" y1="286" x2="271" y2="293" stroke="#777" stroke-width="0.6" stroke-linecap="butt"/>
<line x1="239" y1="283.5" x2="239" y2="365.5" stroke="#888" stroke-width="0.8" stroke-dasharray="8 2 3 2" stroke-linecap="butt"/>
<path d="M210.6,295.6 Q211.0,298.40000000000003 213.79999999999998,298.8 Q211.0,299.2 210.6,302.0 Q210.2,299.2 207.4,298.8 Q210.2,298.40000000000003 210.6,295.6 Z" fill="#555"/>
<path d="M267.2,295.6 Q267.59999999999997,298.40000000000003 270.4,298.8 Q267.59999999999997,299.2 267.2,302.0 Q266.8,299.2 264.0,298.8 Q266.8,298.40000000000003 267.2,295.6 Z" fill="#555"/>
<path d="M210.6,351.2 Q211.0,354.0 213.79999999999998,354.4 Q211.0,354.79999999999995 210.6,357.59999999999997 Q210.2,354.79999999999995 207.4,354.4 Q210.2,354.0 210.6,351.2 Z" fill="#555"/>
<path d="M267.2,351.2 Q267.59999999999997,354.0 270.4,354.4 Q267.59999999999997,354.79999999999995 267.2,357.59999999999997 Q266.8,354.79999999999995 264.0,354.4 Q266.8,354.0 267.2,351.2 Z" fill="#555"/>
<rect x="273.6" y="303.1" width="5.8" height="16.6" fill="#e6e7e9" stroke="#444" stroke-width="0.9"/>
<rect x="273.6" y="295.3" width="2.6" height="4.5" fill="none" stroke="#555" stroke-width="0.7"/>
<rect x="273.6" y="338.6" width="2.6" height="4.2" fill="none" stroke="#555" stroke-width="0.7"/>
<rect x="274.5" y="305" width="2.4" height="3" fill="none" stroke="#555" stroke-width="0.6"/>
<path d="M714.5,325 V285.1 H719.9 V290 Q725,287.2 731.1,287.2 H767 Q773,287.4 778.3,290 V285.1 H783.6 V325" fill="#e6e7e9" stroke="#333" stroke-width="1.5" />
<line x1="719.9" y1="290" x2="715.2" y2="301.3" stroke="#555" stroke-width="0.7" stroke-linecap="butt"/>
<line x1="717.5" y1="285.5" x2="717.5" y2="296" stroke="#888" stroke-width="0.6" stroke-linecap="butt"/>
<line x1="778.3" y1="290" x2="782.5" y2="303" stroke="#555" stroke-width="0.7" stroke-linecap="butt"/>
<line x1="781" y1="285.5" x2="781" y2="296" stroke="#888" stroke-width="0.6" stroke-linecap="butt"/>
<circle cx="782" cy="304" r="1.2" fill="#444"/>
<line x1="714.5" y1="312.2" x2="783.6" y2="312.2" stroke="#444" stroke-width="1.4" stroke-linecap="butt"/>
<line x1="714.5" y1="317.3" x2="783.6" y2="317.3" stroke="#444" stroke-width="1.2" stroke-linecap="butt"/>
<rect x="714.5" y="325" width="69.6" height="36.2" fill="#e6e7e9" stroke="#333" stroke-width="1.5"/>
<path d="M736.5,324.5 H761.5 L765.5,328.5 V353.6 L761.5,357.6 H736.5 L732.5,353.6 V328.5 Z" fill="#e6e7e9" stroke="#444" stroke-width="1.0" />
<polygon points="733.3,331.0 739.0,325.3 741.5,327.5 735.5,333.5" fill="#d8d9dc" stroke="#444" stroke-width="0.9"/>
<circle cx="736.8" cy="328.8" r="0.9" fill="#555"/>
<polygon points="764.7,331.0 759.0,325.3 756.5,327.5 762.5,333.5" fill="#d8d9dc" stroke="#444" stroke-width="0.9"/>
<circle cx="761.2" cy="328.8" r="0.9" fill="#555"/>
<polygon points="733.3,351.1 739.0,356.8 741.5,354.6 735.5,348.6" fill="#d8d9dc" stroke="#444" stroke-width="0.9"/>
<circle cx="736.8" cy="353.3" r="0.9" fill="#555"/>
<polygon points="764.7,351.1 759.0,356.8 756.5,354.6 762.5,348.6" fill="#d8d9dc" stroke="#444" stroke-width="0.9"/>
<circle cx="761.2" cy="353.3" r="0.9" fill="#555"/>
<path d="M741.2,324.5 V320.5 Q741.2,318 743.7,318 H755.1 Q757.6,318 757.6,320.5 V324.5" fill="#e6e7e9" stroke="#444" stroke-width="0.9" />
<rect x="719.2" y="339.3" width="10.2" height="3.8" fill="#e6e7e9" stroke="#555" stroke-width="0.8"/>
<rect x="729.4" y="335.9" width="2.7" height="10.6" fill="#e6e7e9" stroke="#555" stroke-width="0.8"/>
<line x1="749.6" y1="280" x2="749.6" y2="366" stroke="#666" stroke-width="0.7" stroke-dasharray="8 2 3 2" stroke-linecap="butt"/>
<line x1="731" y1="341.4" x2="770" y2="341.4" stroke="#555" stroke-width="0.7" stroke-dasharray="5 2 2 2" stroke-linecap="butt"/>
<circle cx="720.7" cy="354.5" r="2.2" fill="#bbb" stroke="#555" stroke-width="0.8"/>
<circle cx="720.7" cy="354.5" r="1.0" fill="none" stroke="#666" stroke-width="0.5"/>
<circle cx="777.3" cy="354.5" r="2.2" fill="#bbb" stroke="#555" stroke-width="0.8"/>
<circle cx="777.3" cy="354.5" r="1.0" fill="none" stroke="#666" stroke-width="0.5"/>
<circle cx="717.3" cy="320.7" r="1.9" fill="#666" stroke="#444" stroke-width="0.6"/>
<circle cx="780.7" cy="320.7" r="1.9" fill="#666" stroke="#444" stroke-width="0.6"/>
<line x1="720.7" y1="317.3" x2="720.7" y2="325" stroke="#666" stroke-width="0.6" stroke-linecap="butt"/>
<line x1="777.3" y1="317.3" x2="777.3" y2="325" stroke="#666" stroke-width="0.6" stroke-linecap="butt"/>
<line x1="725" y1="324.8" x2="740" y2="324.8" stroke="#999" stroke-width="1.6" stroke-linecap="butt"/>
<line x1="758" y1="324.8" x2="776" y2="324.8" stroke="#999" stroke-width="1.6" stroke-linecap="butt"/>
<path d="M714.5,296 H712.5 V302 H709 V319.5 H714.5" fill="#e6e7e9" stroke="#333" stroke-width="1.0" />
<text x="720.9" y="302.7" font-family="Liberation Sans" font-size="11" fill="#1aa3e0" text-anchor="start" font-weight="normal" textLength="6.0" lengthAdjust="spacingAndGlyphs" stroke="#1aa3e0" stroke-width="0.3">B</text>
<circle cx="714.4" cy="309.2" r="7.3" fill="none" stroke="#1aa3e0" stroke-width="1.2"/>
<line x1="714.5" y1="258" x2="714.5" y2="285" stroke="#666" stroke-width="0.6" stroke-linecap="butt"/>
<line x1="783.6" y1="258" x2="783.6" y2="285" stroke="#666" stroke-width="0.6" stroke-linecap="butt"/>
<line x1="717.1" y1="272" x2="717.1" y2="287" stroke="#666" stroke-width="0.6" stroke-linecap="butt"/>
<line x1="781.5" y1="272" x2="781.5" y2="287" stroke="#666" stroke-width="0.6" stroke-linecap="butt"/>
<line x1="714.5" y1="264.1" x2="783.6" y2="264.1" stroke="#444" stroke-width="0.7" stroke-linecap="butt"/>
<polygon points="714.50,264.10 719.30,262.70 719.30,265.50" fill="#333"/>
<polygon points="783.60,264.10 778.80,262.70 778.80,265.50" fill="#333"/>
<line x1="717.1" y1="277.1" x2="781.5" y2="277.1" stroke="#444" stroke-width="0.7" stroke-linecap="butt"/>
<polygon points="717.10,277.10 721.90,275.70 721.90,278.50" fill="#333"/>
<polygon points="781.50,277.10 776.70,275.70 776.70,278.50" fill="#333"/>
<text x="750" y="260.6" font-family="Liberation Sans" font-size="11" fill="#2b2b2b" text-anchor="middle" font-weight="normal" textLength="18.1" lengthAdjust="spacingAndGlyphs"  stroke="#2b2b2b" stroke-width="0.25">169</text>
<text x="750" y="274.5" font-family="Liberation Sans" font-size="11" fill="#2b2b2b" text-anchor="middle" font-weight="normal" textLength="18.1" lengthAdjust="spacingAndGlyphs"  stroke="#2b2b2b" stroke-width="0.25">156</text>
<line x1="689.5" y1="285.4" x2="714" y2="285.4" stroke="#777" stroke-width="0.6" stroke-linecap="butt"/>
<line x1="689.5" y1="325.2" x2="714" y2="325.2" stroke="#777" stroke-width="0.6" stroke-linecap="butt"/>
<line x1="689.5" y1="361" x2="714" y2="361" stroke="#777" stroke-width="0.6" stroke-linecap="butt"/>
<line x1="703" y1="309.6" x2="714" y2="309.6" stroke="#777" stroke-width="0.6" stroke-linecap="butt"/>
<line x1="691" y1="285.6" x2="691" y2="324.8" stroke="#444" stroke-width="0.7" stroke-linecap="butt"/>
<polygon points="691.00,285.60 689.60,290.40 692.40,290.40" fill="#333"/>
<polygon points="691.00,324.80 689.60,320.00 692.40,320.00" fill="#333"/>
<line x1="691" y1="325.4" x2="691" y2="360.8" stroke="#444" stroke-width="0.7" stroke-linecap="butt"/>
<polygon points="691.00,325.40 689.60,330.20 692.40,330.20" fill="#333"/>
<polygon points="691.00,360.80 689.60,356.00 692.40,356.00" fill="#333"/>
<line x1="705.4" y1="309.8" x2="705.4" y2="325" stroke="#444" stroke-width="0.7" stroke-linecap="butt"/>
<polygon points="705.40,309.80 704.00,314.60 706.80,314.60" fill="#333"/>
<polygon points="705.40,325.00 704.00,320.20 706.80,320.20" fill="#333"/>
<text x="687.5" y="304.6" font-family="Liberation Sans" font-size="12" fill="#2b2b2b" text-anchor="middle" font-weight="normal" textLength="12.3" lengthAdjust="spacingAndGlyphs" transform="rotate(-90 687.5 304.6)"  stroke="#2b2b2b" stroke-width="0.25">97</text>
<text x="687.5" y="342.8" font-family="Liberation Sans" font-size="12" fill="#2b2b2b" text-anchor="middle" font-weight="normal" textLength="12.3" lengthAdjust="spacingAndGlyphs" transform="rotate(-90 687.5 342.8)"  stroke="#2b2b2b" stroke-width="0.25">88</text>
<text x="700.2" y="316.8" font-family="Liberation Sans" font-size="12" fill="#2b2b2b" text-anchor="middle" font-weight="normal" textLength="12.3" lengthAdjust="spacingAndGlyphs" transform="rotate(-90 700.2 316.8)"  stroke="#2b2b2b" stroke-width="0.25">37</text>
<text x="733.6" y="157.3" font-family="Liberation Sans" font-size="10.2" fill="#1aa3e0" text-anchor="start" font-weight="normal" textLength="36.2" lengthAdjust="spacingAndGlyphs" >B View</text>
<path d="M746.3,178.2 L748.6,177.3 V187.3 H755.7 Q761.4,187.9 761.4,195.1 Q761.4,202.1 755.7,202.1 H748.6 V206.8 L746.3,207.6 V198.4 H750.5 V202.1 M746.3,191.6 H750.5 V187.3 M746.3,191.6 V178.2" fill="none" stroke="#3a3a3a" stroke-width="1.1" />
<path d="M755.7,188.4 Q759.6,190 759.6,195.1 Q759.6,200.3 755.7,201.7" fill="none" stroke="#666" stroke-width="0.6" />
<line x1="724.1" y1="191.6" x2="745.5" y2="191.6" stroke="#777" stroke-width="0.6" stroke-linecap="butt"/>
<line x1="724.1" y1="198.4" x2="745.5" y2="198.4" stroke="#777" stroke-width="0.6" stroke-linecap="butt"/>
<line x1="741" y1="195.1" x2="757" y2="195.1" stroke="#888" stroke-width="0.5" stroke-dasharray="5 1.5 2 1.5" stroke-linecap="butt"/>
<text x="724.9" y="180.8" font-family="Liberation Sans" font-size="11" fill="#2b2b2b" text-anchor="start" font-weight="normal" textLength="14.4" lengthAdjust="spacingAndGlyphs"  stroke="#2b2b2b" stroke-width="0.25">3.5</text>
<line x1="724.1" y1="183.3" x2="738.6" y2="183.3" stroke="#666" stroke-width="0.6" stroke-linecap="butt"/>
<line x1="724.1" y1="183.3" x2="724.1" y2="191.6" stroke="#555" stroke-width="0.6" stroke-linecap="butt"/>
<polygon points="724.10,191.60 722.70,186.80 725.50,186.80" fill="#333"/>
<line x1="724.1" y1="198.4" x2="724.1" y2="205.4" stroke="#555" stroke-width="0.6" stroke-linecap="butt"/>
<polygon points="724.10,198.40 722.70,203.20 725.50,203.20" fill="#333"/>
<text x="725.6" y="214.5" font-family="Liberation Sans" font-size="11" fill="#2b2b2b" text-anchor="start" font-weight="normal" textLength="13.7" lengthAdjust="spacingAndGlyphs"  stroke="#2b2b2b" stroke-width="0.25">1.8</text>
<line x1="724" y1="218.3" x2="766" y2="218.3" stroke="#555" stroke-width="0.6" stroke-linecap="butt"/>
<polygon points="747.50,218.30 742.70,216.90 742.70,219.70" fill="#333"/>
<polygon points="750.40,218.30 755.20,216.90 755.20,219.70" fill="#333"/>
<text x="725.6" y="229.7" font-family="Liberation Sans" font-size="11" fill="#2b2b2b" text-anchor="start" font-weight="normal" textLength="13.7" lengthAdjust="spacingAndGlyphs"  stroke="#2b2b2b" stroke-width="0.25">5.5</text>
<line x1="724" y1="232" x2="766" y2="232" stroke="#555" stroke-width="0.6" stroke-linecap="butt"/>
<polygon points="747.50,232.00 742.70,230.60 742.70,233.40" fill="#333"/>
<polygon points="758.30,232.00 763.10,230.60 763.10,233.40" fill="#333"/>
<line x1="747.8" y1="207" x2="747.8" y2="234" stroke="#777" stroke-width="0.6" stroke-linecap="butt"/>
<line x1="750.5" y1="202" x2="750.5" y2="220" stroke="#777" stroke-width="0.6" stroke-linecap="butt"/>
<line x1="758.1" y1="201" x2="758.1" y2="234" stroke="#777" stroke-width="0.6" stroke-linecap="butt"/>
<line x1="760" y1="189.3" x2="776" y2="189.3" stroke="#777" stroke-width="0.6" stroke-linecap="butt"/>
<line x1="757" y1="200.7" x2="776" y2="200.7" stroke="#aaa" stroke-width="1.0" stroke-linecap="butt"/>
<line x1="773.4" y1="181" x2="773.4" y2="213.8" stroke="#555" stroke-width="0.6" stroke-linecap="butt"/>
<polygon points="773.40,189.30 772.00,184.50 774.80,184.50" fill="#333"/>
<polygon points="773.40,200.70 772.00,205.50 774.80,205.50" fill="#333"/>
<line x1="773.5" y1="213.8" x2="792.6" y2="213.8" stroke="#666" stroke-width="0.6" stroke-linecap="butt"/>
<text x="777.3" y="211.5" font-family="Liberation Sans" font-size="11" fill="#2b2b2b" text-anchor="start" font-weight="normal" textLength="15.3" lengthAdjust="spacingAndGlyphs"  stroke="#2b2b2b" stroke-width="0.25">5.7</text>
<rect x="97.7" y="500.9" width="801.0999999999999" height="25.100000000000023" fill="#5bc4cd" stroke="none" stroke-width="0"/>
<rect x="97.7" y="526.0" width="63.8" height="71.20000000000005" fill="#dff1f3" stroke="none" stroke-width="0"/>
<line x1="97.7" y1="500.9" x2="898.8" y2="500.9" stroke="#4a4a4a" stroke-width="1.3" stroke-linecap="butt"/>
<line x1="97.7" y1="526.0" x2="898.8" y2="526.0" stroke="#444" stroke-width="1.1" stroke-linecap="butt"/>
<line x1="97.7" y1="540.5" x2="161.5" y2="540.5" stroke="#555" stroke-width="1.0" stroke-linecap="butt"/>
<line x1="161.5" y1="540.5" x2="898.8" y2="540.5" stroke="#8a8a8a" stroke-width="0.8" stroke-linecap="butt"/>
<line x1="97.7" y1="554.5" x2="161.5" y2="554.5" stroke="#555" stroke-width="1.0" stroke-linecap="butt"/>
<line x1="161.5" y1="554.5" x2="898.8" y2="554.5" stroke="#8a8a8a" stroke-width="0.8" stroke-linecap="butt"/>
<line x1="97.7" y1="568.5" x2="161.5" y2="568.5" stroke="#555" stroke-width="1.0" stroke-linecap="butt"/>
<line x1="161.5" y1="568.5" x2="898.8" y2="568.5" stroke="#8a8a8a" stroke-width="0.8" stroke-linecap="butt"/>
<line x1="97.7" y1="583.5" x2="161.5" y2="583.5" stroke="#555" stroke-width="1.0" stroke-linecap="butt"/>
<line x1="161.5" y1="583.5" x2="898.8" y2="583.5" stroke="#8a8a8a" stroke-width="0.8" stroke-linecap="butt"/>
<line x1="97.7" y1="597.2" x2="898.8" y2="597.2" stroke="#3a3a3a" stroke-width="1.3" stroke-linecap="butt"/>
<line x1="161.5" y1="500.9" x2="161.5" y2="597.2" stroke="#333" stroke-width="1.1" stroke-linecap="butt"/>
<line x1="190.5" y1="500.9" x2="190.5" y2="526.0" stroke="#2f4f53" stroke-width="1.0" stroke-linecap="butt"/>
<line x1="190.5" y1="526.0" x2="190.5" y2="597.2" stroke="#4a4a4a" stroke-width="0.85" stroke-linecap="butt"/>
<line x1="220.5" y1="500.9" x2="220.5" y2="526.0" stroke="#2f4f53" stroke-width="1.0" stroke-linecap="butt"/>
<line x1="220.5" y1="526.0" x2="220.5" y2="597.2" stroke="#4a4a4a" stroke-width="0.85" stroke-linecap="butt"/>
<line x1="249.5" y1="500.9" x2="249.5" y2="526.0" stroke="#2f4f53" stroke-width="1.0" stroke-linecap="butt"/>
<line x1="249.5" y1="526.0" x2="249.5" y2="597.2" stroke="#4a4a4a" stroke-width="0.85" stroke-linecap="butt"/>
<line x1="279.5" y1="500.9" x2="279.5" y2="526.0" stroke="#2f4f53" stroke-width="1.0" stroke-linecap="butt"/>
<line x1="279.5" y1="526.0" x2="279.5" y2="597.2" stroke="#4a4a4a" stroke-width="0.85" stroke-linecap="butt"/>
<line x1="308.5" y1="500.9" x2="308.5" y2="526.0" stroke="#2f4f53" stroke-width="1.0" stroke-linecap="butt"/>
<line x1="308.5" y1="526.0" x2="308.5" y2="597.2" stroke="#4a4a4a" stroke-width="0.85" stroke-linecap="butt"/>
<line x1="338.5" y1="500.9" x2="338.5" y2="526.0" stroke="#2f4f53" stroke-width="1.0" stroke-linecap="butt"/>
<line x1="338.5" y1="526.0" x2="338.5" y2="597.2" stroke="#4a4a4a" stroke-width="0.85" stroke-linecap="butt"/>
<line x1="367.5" y1="500.9" x2="367.5" y2="526.0" stroke="#2f4f53" stroke-width="1.0" stroke-linecap="butt"/>
<line x1="367.5" y1="526.0" x2="367.5" y2="597.2" stroke="#4a4a4a" stroke-width="0.85" stroke-linecap="butt"/>
<line x1="397.5" y1="500.9" x2="397.5" y2="526.0" stroke="#2f4f53" stroke-width="1.0" stroke-linecap="butt"/>
<line x1="397.5" y1="526.0" x2="397.5" y2="597.2" stroke="#4a4a4a" stroke-width="0.85" stroke-linecap="butt"/>
<line x1="426.5" y1="500.9" x2="426.5" y2="526.0" stroke="#2f4f53" stroke-width="1.0" stroke-linecap="butt"/>
<line x1="426.5" y1="526.0" x2="426.5" y2="597.2" stroke="#4a4a4a" stroke-width="0.85" stroke-linecap="butt"/>
<line x1="456.5" y1="500.9" x2="456.5" y2="526.0" stroke="#2f4f53" stroke-width="1.0" stroke-linecap="butt"/>
<line x1="456.5" y1="526.0" x2="456.5" y2="597.2" stroke="#4a4a4a" stroke-width="0.85" stroke-linecap="butt"/>
<line x1="485.5" y1="500.9" x2="485.5" y2="526.0" stroke="#2f4f53" stroke-width="1.0" stroke-linecap="butt"/>
<line x1="485.5" y1="526.0" x2="485.5" y2="597.2" stroke="#4a4a4a" stroke-width="0.85" stroke-linecap="butt"/>
<line x1="515.5" y1="500.9" x2="515.5" y2="526.0" stroke="#2f4f53" stroke-width="1.0" stroke-linecap="butt"/>
<line x1="515.5" y1="526.0" x2="515.5" y2="597.2" stroke="#4a4a4a" stroke-width="0.85" stroke-linecap="butt"/>
<line x1="544.5" y1="500.9" x2="544.5" y2="526.0" stroke="#2f4f53" stroke-width="1.0" stroke-linecap="butt"/>
<line x1="544.5" y1="526.0" x2="544.5" y2="597.2" stroke="#4a4a4a" stroke-width="0.85" stroke-linecap="butt"/>
<line x1="574.5" y1="500.9" x2="574.5" y2="526.0" stroke="#2f4f53" stroke-width="1.0" stroke-linecap="butt"/>
<line x1="574.5" y1="526.0" x2="574.5" y2="597.2" stroke="#4a4a4a" stroke-width="0.85" stroke-linecap="butt"/>
<line x1="603.5" y1="500.9" x2="603.5" y2="526.0" stroke="#2f4f53" stroke-width="1.0" stroke-linecap="butt"/>
<line x1="603.5" y1="526.0" x2="603.5" y2="597.2" stroke="#4a4a4a" stroke-width="0.85" stroke-linecap="butt"/>
<line x1="633.5" y1="500.9" x2="633.5" y2="526.0" stroke="#2f4f53" stroke-width="1.0" stroke-linecap="butt"/>
<line x1="633.5" y1="526.0" x2="633.5" y2="597.2" stroke="#4a4a4a" stroke-width="0.85" stroke-linecap="butt"/>
<line x1="662.5" y1="500.9" x2="662.5" y2="526.0" stroke="#2f4f53" stroke-width="1.0" stroke-linecap="butt"/>
<line x1="662.5" y1="526.0" x2="662.5" y2="597.2" stroke="#4a4a4a" stroke-width="0.85" stroke-linecap="butt"/>
<line x1="692.5" y1="500.9" x2="692.5" y2="526.0" stroke="#2f4f53" stroke-width="1.0" stroke-linecap="butt"/>
<line x1="692.5" y1="526.0" x2="692.5" y2="597.2" stroke="#4a4a4a" stroke-width="0.85" stroke-linecap="butt"/>
<line x1="721.5" y1="500.9" x2="721.5" y2="526.0" stroke="#2f4f53" stroke-width="1.0" stroke-linecap="butt"/>
<line x1="721.5" y1="526.0" x2="721.5" y2="597.2" stroke="#4a4a4a" stroke-width="0.85" stroke-linecap="butt"/>
<line x1="751.5" y1="500.9" x2="751.5" y2="526.0" stroke="#2f4f53" stroke-width="1.0" stroke-linecap="butt"/>
<line x1="751.5" y1="526.0" x2="751.5" y2="597.2" stroke="#4a4a4a" stroke-width="0.85" stroke-linecap="butt"/>
<line x1="780.5" y1="500.9" x2="780.5" y2="526.0" stroke="#2f4f53" stroke-width="1.0" stroke-linecap="butt"/>
<line x1="780.5" y1="526.0" x2="780.5" y2="597.2" stroke="#4a4a4a" stroke-width="0.85" stroke-linecap="butt"/>
<line x1="810.5" y1="500.9" x2="810.5" y2="526.0" stroke="#2f4f53" stroke-width="1.0" stroke-linecap="butt"/>
<line x1="810.5" y1="526.0" x2="810.5" y2="597.2" stroke="#4a4a4a" stroke-width="0.85" stroke-linecap="butt"/>
<line x1="839.5" y1="500.9" x2="839.5" y2="526.0" stroke="#2f4f53" stroke-width="1.0" stroke-linecap="butt"/>
<line x1="839.5" y1="526.0" x2="839.5" y2="597.2" stroke="#4a4a4a" stroke-width="0.85" stroke-linecap="butt"/>
<line x1="869.5" y1="500.9" x2="869.5" y2="526.0" stroke="#2f4f53" stroke-width="1.0" stroke-linecap="butt"/>
<line x1="869.5" y1="526.0" x2="869.5" y2="597.2" stroke="#4a4a4a" stroke-width="0.85" stroke-linecap="butt"/>
<rect x="780.5" y="501.2" width="30.0" height="25.100000000000023" fill="none" stroke="#222" stroke-width="1.0"/>
<text x="129.2" y="517.0" font-family="Liberation Sans" font-size="10.2" fill="#fff" text-anchor="middle" font-weight="normal" textLength="28" lengthAdjust="spacingAndGlyphs" stroke="#fff" stroke-width="0.35">Stroke</text>
<text x="176.246" y="517.0" font-family="Liberation Sans" font-size="10.3" fill="#fff" text-anchor="middle" font-weight="normal" textLength="10.4" lengthAdjust="spacingAndGlyphs" stroke="#fff" stroke-width="0.35">50</text>
<text x="176.246" y="537.2" font-family="Liberation Sans" font-size="9.8" fill="#222" text-anchor="middle" font-weight="normal" textLength="25.4" lengthAdjust="spacingAndGlyphs" stroke="#222" stroke-width="0.15">333.5</text>
<text x="176.246" y="551.5" font-family="Liberation Sans" font-size="11" fill="#1e1e24" text-anchor="middle" font-weight="normal" textLength="5.7" lengthAdjust="spacingAndGlyphs" stroke="#1e1e24" stroke-width="0.45">0</text>
<text x="176.246" y="565.4" font-family="Liberation Sans" font-size="11" fill="#1e1e24" text-anchor="middle" font-weight="normal" textLength="5.7" lengthAdjust="spacingAndGlyphs" stroke="#1e1e24" stroke-width="0.45">0</text>
<text x="176.246" y="579.1" font-family="Liberation Sans" font-size="11" fill="#1e1e24" text-anchor="middle" font-weight="normal" textLength="5.7" lengthAdjust="spacingAndGlyphs" stroke="#1e1e24" stroke-width="0.45">4</text>
<text x="176.246" y="593.9" font-family="Liberation Sans" font-size="10.4" fill="#222" text-anchor="middle" font-weight="normal" textLength="19.4" lengthAdjust="spacingAndGlyphs" stroke="#222" stroke-width="0.15">9.53</text>
<text x="205.738" y="517.0" font-family="Liberation Sans" font-size="10.3" fill="#fff" text-anchor="middle" font-weight="normal" textLength="15.6" lengthAdjust="spacingAndGlyphs" stroke="#fff" stroke-width="0.35">100</text>
<text x="205.738" y="537.2" font-family="Liberation Sans" font-size="9.8" fill="#222" text-anchor="middle" font-weight="normal" textLength="25.4" lengthAdjust="spacingAndGlyphs" stroke="#222" stroke-width="0.15">383.5</text>
<text x="205.738" y="551.5" font-family="Liberation Sans" font-size="11" fill="#1e1e24" text-anchor="middle" font-weight="normal" textLength="11.4" lengthAdjust="spacingAndGlyphs" stroke="#1e1e24" stroke-width="0.45">50</text>
<text x="205.738" y="565.4" font-family="Liberation Sans" font-size="11" fill="#1e1e24" text-anchor="middle" font-weight="normal" textLength="5.7" lengthAdjust="spacingAndGlyphs" stroke="#1e1e24" stroke-width="0.45">0</text>
<text x="205.738" y="579.1" font-family="Liberation Sans" font-size="11" fill="#1e1e24" text-anchor="middle" font-weight="normal" textLength="5.7" lengthAdjust="spacingAndGlyphs" stroke="#1e1e24" stroke-width="0.45">6</text>
<text x="205.738" y="593.9" font-family="Liberation Sans" font-size="10.4" fill="#222" text-anchor="middle" font-weight="normal" textLength="19.4" lengthAdjust="spacingAndGlyphs" stroke="#222" stroke-width="0.15">10.3</text>
<text x="235.23" y="517.0" font-family="Liberation Sans" font-size="10.3" fill="#fff" text-anchor="middle" font-weight="normal" textLength="15.6" lengthAdjust="spacingAndGlyphs" stroke="#fff" stroke-width="0.35">150</text>
<text x="235.23" y="537.2" font-family="Liberation Sans" font-size="9.8" fill="#222" text-anchor="middle" font-weight="normal" textLength="25.4" lengthAdjust="spacingAndGlyphs" stroke="#222" stroke-width="0.15">433.5</text>
<text x="235.23" y="551.5" font-family="Liberation Sans" font-size="11" fill="#1e1e24" text-anchor="middle" font-weight="normal" textLength="17.1" lengthAdjust="spacingAndGlyphs" stroke="#1e1e24" stroke-width="0.45">100</text>
<text x="235.23" y="565.4" font-family="Liberation Sans" font-size="11" fill="#1e1e24" text-anchor="middle" font-weight="normal" textLength="5.7" lengthAdjust="spacingAndGlyphs" stroke="#1e1e24" stroke-width="0.45">0</text>
<text x="235.23" y="579.1" font-family="Liberation Sans" font-size="11" fill="#1e1e24" text-anchor="middle" font-weight="normal" textLength="5.7" lengthAdjust="spacingAndGlyphs" stroke="#1e1e24" stroke-width="0.45">6</text>
<text x="235.23" y="593.9" font-family="Liberation Sans" font-size="10.4" fill="#222" text-anchor="middle" font-weight="normal" textLength="25.0" lengthAdjust="spacingAndGlyphs" stroke="#222" stroke-width="0.15">11.07</text>
<text x="264.722" y="517.0" font-family="Liberation Sans" font-size="10.3" fill="#fff" text-anchor="middle" font-weight="normal" textLength="15.6" lengthAdjust="spacingAndGlyphs" stroke="#fff" stroke-width="0.35">200</text>
<text x="264.722" y="537.2" font-family="Liberation Sans" font-size="9.8" fill="#222" text-anchor="middle" font-weight="normal" textLength="25.4" lengthAdjust="spacingAndGlyphs" stroke="#222" stroke-width="0.15">483.5</text>
<text x="264.722" y="551.5" font-family="Liberation Sans" font-size="11" fill="#1e1e24" text-anchor="middle" font-weight="normal" textLength="17.1" lengthAdjust="spacingAndGlyphs" stroke="#1e1e24" stroke-width="0.45">150</text>
<text x="264.722" y="565.4" font-family="Liberation Sans" font-size="11" fill="#1e1e24" text-anchor="middle" font-weight="normal" textLength="5.7" lengthAdjust="spacingAndGlyphs" stroke="#1e1e24" stroke-width="0.45">0</text>
<text x="264.722" y="579.1" font-family="Liberation Sans" font-size="11" fill="#1e1e24" text-anchor="middle" font-weight="normal" textLength="5.7" lengthAdjust="spacingAndGlyphs" stroke="#1e1e24" stroke-width="0.45">6</text>
<text x="264.722" y="593.9" font-family="Liberation Sans" font-size="10.4" fill="#222" text-anchor="middle" font-weight="normal" textLength="25.0" lengthAdjust="spacingAndGlyphs" stroke="#222" stroke-width="0.15">11.84</text>
<text x="294.21399999999994" y="517.0" font-family="Liberation Sans" font-size="10.3" fill="#fff" text-anchor="middle" font-weight="normal" textLength="15.6" lengthAdjust="spacingAndGlyphs" stroke="#fff" stroke-width="0.35">250</text>
<text x="294.21399999999994" y="537.2" font-family="Liberation Sans" font-size="9.8" fill="#222" text-anchor="middle" font-weight="normal" textLength="25.4" lengthAdjust="spacingAndGlyphs" stroke="#222" stroke-width="0.15">533.5</text>
<text x="294.21399999999994" y="551.5" font-family="Liberation Sans" font-size="11" fill="#1e1e24" text-anchor="middle" font-weight="normal" textLength="17.1" lengthAdjust="spacingAndGlyphs" stroke="#1e1e24" stroke-width="0.45">200</text>
<text x="294.21399999999994" y="565.4" font-family="Liberation Sans" font-size="11" fill="#1e1e24" text-anchor="middle" font-weight="normal" textLength="5.7" lengthAdjust="spacingAndGlyphs" stroke="#1e1e24" stroke-width="0.45">0</text>
<text x="294.21399999999994" y="579.1" font-family="Liberation Sans" font-size="11" fill="#1e1e24" text-anchor="middle" font-weight="normal" textLength="5.7" lengthAdjust="spacingAndGlyphs" stroke="#1e1e24" stroke-width="0.45">6</text>
<text x="294.21399999999994" y="593.9" font-family="Liberation Sans" font-size="10.4" fill="#222" text-anchor="middle" font-weight="normal" textLength="25.0" lengthAdjust="spacingAndGlyphs" stroke="#222" stroke-width="0.15">12.61</text>
<text x="323.70599999999996" y="517.0" font-family="Liberation Sans" font-size="10.3" fill="#fff" text-anchor="middle" font-weight="normal" textLength="15.6" lengthAdjust="spacingAndGlyphs" stroke="#fff" stroke-width="0.35">300</text>
<text x="323.70599999999996" y="537.2" font-family="Liberation Sans" font-size="9.8" fill="#222" text-anchor="middle" font-weight="normal" textLength="25.4" lengthAdjust="spacingAndGlyphs" stroke="#222" stroke-width="0.15">583.5</text>
<text x="323.70599999999996" y="551.5" font-family="Liberation Sans" font-size="11" fill="#1e1e24" text-anchor="middle" font-weight="normal" textLength="11.4" lengthAdjust="spacingAndGlyphs" stroke="#1e1e24" stroke-width="0.45">50</text>
<text x="323.70599999999996" y="565.4" font-family="Liberation Sans" font-size="11" fill="#1e1e24" text-anchor="middle" font-weight="normal" textLength="5.7" lengthAdjust="spacingAndGlyphs" stroke="#1e1e24" stroke-width="0.45">1</text>
<text x="323.70599999999996" y="579.1" font-family="Liberation Sans" font-size="11" fill="#1e1e24" text-anchor="middle" font-weight="normal" textLength="5.7" lengthAdjust="spacingAndGlyphs" stroke="#1e1e24" stroke-width="0.45">8</text>
<text x="323.70599999999996" y="593.9" font-family="Liberation Sans" font-size="10.4" fill="#222" text-anchor="middle" font-weight="normal" textLength="25.0" lengthAdjust="spacingAndGlyphs" stroke="#222" stroke-width="0.15">13.38</text>
<text x="353.198" y="517.0" font-family="Liberation Sans" font-size="10.3" fill="#fff" text-anchor="middle" font-weight="normal" textLength="15.6" lengthAdjust="spacingAndGlyphs" stroke="#fff" stroke-width="0.35">350</text>
<text x="353.198" y="537.2" font-family="Liberation Sans" font-size="9.8" fill="#222" text-anchor="middle" font-weight="normal" textLength="25.4" lengthAdjust="spacingAndGlyphs" stroke="#222" stroke-width="0.15">633.5</text>
<text x="353.198" y="551.5" font-family="Liberation Sans" font-size="11" fill="#1e1e24" text-anchor="middle" font-weight="normal" textLength="17.1" lengthAdjust="spacingAndGlyphs" stroke="#1e1e24" stroke-width="0.45">100</text>
<text x="353.198" y="565.4" font-family="Liberation Sans" font-size="11" fill="#1e1e24" text-anchor="middle" font-weight="normal" textLength="5.7" lengthAdjust="spacingAndGlyphs" stroke="#1e1e24" stroke-width="0.45">1</text>
<text x="353.198" y="579.1" font-family="Liberation Sans" font-size="11" fill="#1e1e24" text-anchor="middle" font-weight="normal" textLength="5.7" lengthAdjust="spacingAndGlyphs" stroke="#1e1e24" stroke-width="0.45">8</text>
<text x="353.198" y="593.9" font-family="Liberation Sans" font-size="10.4" fill="#222" text-anchor="middle" font-weight="normal" textLength="25.0" lengthAdjust="spacingAndGlyphs" stroke="#222" stroke-width="0.15">14.15</text>
<text x="382.68999999999994" y="517.0" font-family="Liberation Sans" font-size="10.3" fill="#fff" text-anchor="middle" font-weight="normal" textLength="15.6" lengthAdjust="spacingAndGlyphs" stroke="#fff" stroke-width="0.35">400</text>
<text x="382.68999999999994" y="537.2" font-family="Liberation Sans" font-size="9.8" fill="#222" text-anchor="middle" font-weight="normal" textLength="25.4" lengthAdjust="spacingAndGlyphs" stroke="#222" stroke-width="0.15">683.5</text>
<text x="382.68999999999994" y="551.5" font-family="Liberation Sans" font-size="11" fill="#1e1e24" text-anchor="middle" font-weight="normal" textLength="17.1" lengthAdjust="spacingAndGlyphs" stroke="#1e1e24" stroke-width="0.45">150</text>
<text x="382.68999999999994" y="565.4" font-family="Liberation Sans" font-size="11" fill="#1e1e24" text-anchor="middle" font-weight="normal" textLength="5.7" lengthAdjust="spacingAndGlyphs" stroke="#1e1e24" stroke-width="0.45">1</text>
<text x="382.68999999999994" y="579.1" font-family="Liberation Sans" font-size="11" fill="#1e1e24" text-anchor="middle" font-weight="normal" textLength="5.7" lengthAdjust="spacingAndGlyphs" stroke="#1e1e24" stroke-width="0.45">8</text>
<text x="382.68999999999994" y="593.9" font-family="Liberation Sans" font-size="10.4" fill="#222" text-anchor="middle" font-weight="normal" textLength="25.0" lengthAdjust="spacingAndGlyphs" stroke="#222" stroke-width="0.15">14.92</text>
<text x="412.18199999999996" y="517.0" font-family="Liberation Sans" font-size="10.3" fill="#fff" text-anchor="middle" font-weight="normal" textLength="15.6" lengthAdjust="spacingAndGlyphs" stroke="#fff" stroke-width="0.35">450</text>
<text x="412.18199999999996" y="537.2" font-family="Liberation Sans" font-size="9.8" fill="#222" text-anchor="middle" font-weight="normal" textLength="25.4" lengthAdjust="spacingAndGlyphs" stroke="#222" stroke-width="0.15">733.5</text>
<text x="412.18199999999996" y="551.5" font-family="Liberation Sans" font-size="11" fill="#1e1e24" text-anchor="middle" font-weight="normal" textLength="17.1" lengthAdjust="spacingAndGlyphs" stroke="#1e1e24" stroke-width="0.45">200</text>
<text x="412.18199999999996" y="565.4" font-family="Liberation Sans" font-size="11" fill="#1e1e24" text-anchor="middle" font-weight="normal" textLength="5.7" lengthAdjust="spacingAndGlyphs" stroke="#1e1e24" stroke-width="0.45">1</text>
<text x="412.18199999999996" y="579.1" font-family="Liberation Sans" font-size="11" fill="#1e1e24" text-anchor="middle" font-weight="normal" textLength="5.7" lengthAdjust="spacingAndGlyphs" stroke="#1e1e24" stroke-width="0.45">8</text>
<text x="412.18199999999996" y="593.9" font-family="Liberation Sans" font-size="10.4" fill="#222" text-anchor="middle" font-weight="normal" textLength="25.0" lengthAdjust="spacingAndGlyphs" stroke="#222" stroke-width="0.15">15.69</text>
<text x="441.674" y="517.0" font-family="Liberation Sans" font-size="10.3" fill="#fff" text-anchor="middle" font-weight="normal" textLength="15.6" lengthAdjust="spacingAndGlyphs" stroke="#fff" stroke-width="0.35">500</text>
<text x="441.674" y="537.2" font-family="Liberation Sans" font-size="9.8" fill="#222" text-anchor="middle" font-weight="normal" textLength="25.4" lengthAdjust="spacingAndGlyphs" stroke="#222" stroke-width="0.15">783.5</text>
<text x="441.674" y="551.5" font-family="Liberation Sans" font-size="11" fill="#1e1e24" text-anchor="middle" font-weight="normal" textLength="11.4" lengthAdjust="spacingAndGlyphs" stroke="#1e1e24" stroke-width="0.45">50</text>
<text x="441.674" y="565.4" font-family="Liberation Sans" font-size="11" fill="#1e1e24" text-anchor="middle" font-weight="normal" textLength="5.7" lengthAdjust="spacingAndGlyphs" stroke="#1e1e24" stroke-width="0.45">2</text>
<text x="441.674" y="579.1" font-family="Liberation Sans" font-size="11" fill="#1e1e24" text-anchor="middle" font-weight="normal" textLength="11.4" lengthAdjust="spacingAndGlyphs" stroke="#1e1e24" stroke-width="0.45">10</text>
<text x="441.674" y="593.9" font-family="Liberation Sans" font-size="10.4" fill="#222" text-anchor="middle" font-weight="normal" textLength="25.0" lengthAdjust="spacingAndGlyphs" stroke="#222" stroke-width="0.15">16.47</text>
<text x="471.16599999999994" y="517.0" font-family="Liberation Sans" font-size="10.3" fill="#fff" text-anchor="middle" font-weight="normal" textLength="15.6" lengthAdjust="spacingAndGlyphs" stroke="#fff" stroke-width="0.35">550</text>
<text x="471.16599999999994" y="537.2" font-family="Liberation Sans" font-size="9.8" fill="#222" text-anchor="middle" font-weight="normal" textLength="25.4" lengthAdjust="spacingAndGlyphs" stroke="#222" stroke-width="0.15">833.5</text>
<text x="471.16599999999994" y="551.5" font-family="Liberation Sans" font-size="11" fill="#1e1e24" text-anchor="middle" font-weight="normal" textLength="17.1" lengthAdjust="spacingAndGlyphs" stroke="#1e1e24" stroke-width="0.45">100</text>
<text x="471.16599999999994" y="565.4" font-family="Liberation Sans" font-size="11" fill="#1e1e24" text-anchor="middle" font-weight="normal" textLength="5.7" lengthAdjust="spacingAndGlyphs" stroke="#1e1e24" stroke-width="0.45">2</text>
<text x="471.16599999999994" y="579.1" font-family="Liberation Sans" font-size="11" fill="#1e1e24" text-anchor="middle" font-weight="normal" textLength="11.4" lengthAdjust="spacingAndGlyphs" stroke="#1e1e24" stroke-width="0.45">10</text>
<text x="471.16599999999994" y="593.9" font-family="Liberation Sans" font-size="10.4" fill="#222" text-anchor="middle" font-weight="normal" textLength="25.0" lengthAdjust="spacingAndGlyphs" stroke="#222" stroke-width="0.15">17.24</text>
<text x="500.65799999999996" y="517.0" font-family="Liberation Sans" font-size="10.3" fill="#fff" text-anchor="middle" font-weight="normal" textLength="15.6" lengthAdjust="spacingAndGlyphs" stroke="#fff" stroke-width="0.35">600</text>
<text x="500.65799999999996" y="537.2" font-family="Liberation Sans" font-size="9.8" fill="#222" text-anchor="middle" font-weight="normal" textLength="25.4" lengthAdjust="spacingAndGlyphs" stroke="#222" stroke-width="0.15">883.5</text>
<text x="500.65799999999996" y="551.5" font-family="Liberation Sans" font-size="11" fill="#1e1e24" text-anchor="middle" font-weight="normal" textLength="17.1" lengthAdjust="spacingAndGlyphs" stroke="#1e1e24" stroke-width="0.45">150</text>
<text x="500.65799999999996" y="565.4" font-family="Liberation Sans" font-size="11" fill="#1e1e24" text-anchor="middle" font-weight="normal" textLength="5.7" lengthAdjust="spacingAndGlyphs" stroke="#1e1e24" stroke-width="0.45">2</text>
<text x="500.65799999999996" y="579.1" font-family="Liberation Sans" font-size="11" fill="#1e1e24" text-anchor="middle" font-weight="normal" textLength="11.4" lengthAdjust="spacingAndGlyphs" stroke="#1e1e24" stroke-width="0.45">10</text>
<text x="500.65799999999996" y="593.9" font-family="Liberation Sans" font-size="10.4" fill="#222" text-anchor="middle" font-weight="normal" textLength="25.0" lengthAdjust="spacingAndGlyphs" stroke="#222" stroke-width="0.15">18.01</text>
<text x="530.15" y="517.0" font-family="Liberation Sans" font-size="10.3" fill="#fff" text-anchor="middle" font-weight="normal" textLength="15.6" lengthAdjust="spacingAndGlyphs" stroke="#fff" stroke-width="0.35">650</text>
<text x="530.15" y="537.2" font-family="Liberation Sans" font-size="9.8" fill="#222" text-anchor="middle" font-weight="normal" textLength="25.4" lengthAdjust="spacingAndGlyphs" stroke="#222" stroke-width="0.15">933.5</text>
<text x="530.15" y="551.5" font-family="Liberation Sans" font-size="11" fill="#1e1e24" text-anchor="middle" font-weight="normal" textLength="17.1" lengthAdjust="spacingAndGlyphs" stroke="#1e1e24" stroke-width="0.45">200</text>
<text x="530.15" y="565.4" font-family="Liberation Sans" font-size="11" fill="#1e1e24" text-anchor="middle" font-weight="normal" textLength="5.7" lengthAdjust="spacingAndGlyphs" stroke="#1e1e24" stroke-width="0.45">2</text>
<text x="530.15" y="579.1" font-family="Liberation Sans" font-size="11" fill="#1e1e24" text-anchor="middle" font-weight="normal" textLength="11.4" lengthAdjust="spacingAndGlyphs" stroke="#1e1e24" stroke-width="0.45">10</text>
<text x="530.15" y="593.9" font-family="Liberation Sans" font-size="10.4" fill="#222" text-anchor="middle" font-weight="normal" textLength="25.0" lengthAdjust="spacingAndGlyphs" stroke="#222" stroke-width="0.15">18.78</text>
<text x="559.6419999999999" y="517.0" font-family="Liberation Sans" font-size="10.3" fill="#fff" text-anchor="middle" font-weight="normal" textLength="15.6" lengthAdjust="spacingAndGlyphs" stroke="#fff" stroke-width="0.35">700</text>
<text x="559.6419999999999" y="537.2" font-family="Liberation Sans" font-size="9.8" fill="#222" text-anchor="middle" font-weight="normal" textLength="25.4" lengthAdjust="spacingAndGlyphs" stroke="#222" stroke-width="0.15">983.5</text>
<text x="559.6419999999999" y="551.5" font-family="Liberation Sans" font-size="11" fill="#1e1e24" text-anchor="middle" font-weight="normal" textLength="11.4" lengthAdjust="spacingAndGlyphs" stroke="#1e1e24" stroke-width="0.45">50</text>
<text x="559.6419999999999" y="565.4" font-family="Liberation Sans" font-size="11" fill="#1e1e24" text-anchor="middle" font-weight="normal" textLength="5.7" lengthAdjust="spacingAndGlyphs" stroke="#1e1e24" stroke-width="0.45">3</text>
<text x="559.6419999999999" y="579.1" font-family="Liberation Sans" font-size="11" fill="#1e1e24" text-anchor="middle" font-weight="normal" textLength="11.4" lengthAdjust="spacingAndGlyphs" stroke="#1e1e24" stroke-width="0.45">12</text>
<text x="559.6419999999999" y="593.9" font-family="Liberation Sans" font-size="10.4" fill="#222" text-anchor="middle" font-weight="normal" textLength="25.0" lengthAdjust="spacingAndGlyphs" stroke="#222" stroke-width="0.15">19.55</text>
<text x="589.1339999999999" y="517.0" font-family="Liberation Sans" font-size="10.3" fill="#fff" text-anchor="middle" font-weight="normal" textLength="15.6" lengthAdjust="spacingAndGlyphs" stroke="#fff" stroke-width="0.35">750</text>
<text x="589.1339999999999" y="537.2" font-family="Liberation Sans" font-size="9.8" fill="#222" text-anchor="middle" font-weight="normal" textLength="25.6" lengthAdjust="spacingAndGlyphs" stroke="#222" stroke-width="0.15">1033.5</text>
<text x="589.1339999999999" y="551.5" font-family="Liberation Sans" font-size="11" fill="#1e1e24" text-anchor="middle" font-weight="normal" textLength="17.1" lengthAdjust="spacingAndGlyphs" stroke="#1e1e24" stroke-width="0.45">100</text>
<text x="589.1339999999999" y="565.4" font-family="Liberation Sans" font-size="11" fill="#1e1e24" text-anchor="middle" font-weight="normal" textLength="5.7" lengthAdjust="spacingAndGlyphs" stroke="#1e1e24" stroke-width="0.45">3</text>
<text x="589.1339999999999" y="579.1" font-family="Liberation Sans" font-size="11" fill="#1e1e24" text-anchor="middle" font-weight="normal" textLength="11.4" lengthAdjust="spacingAndGlyphs" stroke="#1e1e24" stroke-width="0.45">12</text>
<text x="589.1339999999999" y="593.9" font-family="Liberation Sans" font-size="10.4" fill="#222" text-anchor="middle" font-weight="normal" textLength="25.0" lengthAdjust="spacingAndGlyphs" stroke="#222" stroke-width="0.15">20.32</text>
<text x="618.6259999999999" y="517.0" font-family="Liberation Sans" font-size="10.3" fill="#fff" text-anchor="middle" font-weight="normal" textLength="15.6" lengthAdjust="spacingAndGlyphs" stroke="#fff" stroke-width="0.35">800</text>
<text x="618.6259999999999" y="537.2" font-family="Liberation Sans" font-size="9.8" fill="#222" text-anchor="middle" font-weight="normal" textLength="25.6" lengthAdjust="spacingAndGlyphs" stroke="#222" stroke-width="0.15">1083.5</text>
<text x="618.6259999999999" y="551.5" font-family="Liberation Sans" font-size="11" fill="#1e1e24" text-anchor="middle" font-weight="normal" textLength="17.1" lengthAdjust="spacingAndGlyphs" stroke="#1e1e24" stroke-width="0.45">150</text>
<text x="618.6259999999999" y="565.4" font-family="Liberation Sans" font-size="11" fill="#1e1e24" text-anchor="middle" font-weight="normal" textLength="5.7" lengthAdjust="spacingAndGlyphs" stroke="#1e1e24" stroke-width="0.45">3</text>
<text x="618.6259999999999" y="579.1" font-family="Liberation Sans" font-size="11" fill="#1e1e24" text-anchor="middle" font-weight="normal" textLength="11.4" lengthAdjust="spacingAndGlyphs" stroke="#1e1e24" stroke-width="0.45">12</text>
<text x="618.6259999999999" y="593.9" font-family="Liberation Sans" font-size="10.4" fill="#222" text-anchor="middle" font-weight="normal" textLength="25.0" lengthAdjust="spacingAndGlyphs" stroke="#222" stroke-width="0.15">21.09</text>
<text x="648.1179999999999" y="517.0" font-family="Liberation Sans" font-size="10.3" fill="#fff" text-anchor="middle" font-weight="normal" textLength="15.6" lengthAdjust="spacingAndGlyphs" stroke="#fff" stroke-width="0.35">850</text>
<text x="648.1179999999999" y="537.2" font-family="Liberation Sans" font-size="9.8" fill="#222" text-anchor="middle" font-weight="normal" textLength="25.6" lengthAdjust="spacingAndGlyphs" stroke="#222" stroke-width="0.15">1133.5</text>
<text x="648.1179999999999" y="551.5" font-family="Liberation Sans" font-size="11" fill="#1e1e24" text-anchor="middle" font-weight="normal" textLength="17.1" lengthAdjust="spacingAndGlyphs" stroke="#1e1e24" stroke-width="0.45">200</text>
<text x="648.1179999999999" y="565.4" font-family="Liberation Sans" font-size="11" fill="#1e1e24" text-anchor="middle" font-weight="normal" textLength="5.7" lengthAdjust="spacingAndGlyphs" stroke="#1e1e24" stroke-width="0.45">3</text>
<text x="648.1179999999999" y="579.1" font-family="Liberation Sans" font-size="11" fill="#1e1e24" text-anchor="middle" font-weight="normal" textLength="11.4" lengthAdjust="spacingAndGlyphs" stroke="#1e1e24" stroke-width="0.45">12</text>
<text x="648.1179999999999" y="593.9" font-family="Liberation Sans" font-size="10.4" fill="#222" text-anchor="middle" font-weight="normal" textLength="25.0" lengthAdjust="spacingAndGlyphs" stroke="#222" stroke-width="0.15">21.86</text>
<text x="677.61" y="517.0" font-family="Liberation Sans" font-size="10.3" fill="#fff" text-anchor="middle" font-weight="normal" textLength="15.6" lengthAdjust="spacingAndGlyphs" stroke="#fff" stroke-width="0.35">900</text>
<text x="677.61" y="537.2" font-family="Liberation Sans" font-size="9.8" fill="#222" text-anchor="middle" font-weight="normal" textLength="25.6" lengthAdjust="spacingAndGlyphs" stroke="#222" stroke-width="0.15">1183.5</text>
<text x="677.61" y="551.5" font-family="Liberation Sans" font-size="11" fill="#1e1e24" text-anchor="middle" font-weight="normal" textLength="11.4" lengthAdjust="spacingAndGlyphs" stroke="#1e1e24" stroke-width="0.45">50</text>
<text x="677.61" y="565.4" font-family="Liberation Sans" font-size="11" fill="#1e1e24" text-anchor="middle" font-weight="normal" textLength="5.7" lengthAdjust="spacingAndGlyphs" stroke="#1e1e24" stroke-width="0.45">4</text>
<text x="677.61" y="579.1" font-family="Liberation Sans" font-size="11" fill="#1e1e24" text-anchor="middle" font-weight="normal" textLength="11.4" lengthAdjust="spacingAndGlyphs" stroke="#1e1e24" stroke-width="0.45">14</text>
<text x="677.61" y="593.9" font-family="Liberation Sans" font-size="10.4" fill="#222" text-anchor="middle" font-weight="normal" textLength="25.0" lengthAdjust="spacingAndGlyphs" stroke="#222" stroke-width="0.15">22.63</text>
<text x="707.102" y="517.0" font-family="Liberation Sans" font-size="10.3" fill="#fff" text-anchor="middle" font-weight="normal" textLength="15.6" lengthAdjust="spacingAndGlyphs" stroke="#fff" stroke-width="0.35">950</text>
<text x="707.102" y="537.2" font-family="Liberation Sans" font-size="9.8" fill="#222" text-anchor="middle" font-weight="normal" textLength="25.6" lengthAdjust="spacingAndGlyphs" stroke="#222" stroke-width="0.15">1233.5</text>
<text x="707.102" y="551.5" font-family="Liberation Sans" font-size="11" fill="#1e1e24" text-anchor="middle" font-weight="normal" textLength="17.1" lengthAdjust="spacingAndGlyphs" stroke="#1e1e24" stroke-width="0.45">100</text>
<text x="707.102" y="565.4" font-family="Liberation Sans" font-size="11" fill="#1e1e24" text-anchor="middle" font-weight="normal" textLength="5.7" lengthAdjust="spacingAndGlyphs" stroke="#1e1e24" stroke-width="0.45">4</text>
<text x="707.102" y="579.1" font-family="Liberation Sans" font-size="11" fill="#1e1e24" text-anchor="middle" font-weight="normal" textLength="11.4" lengthAdjust="spacingAndGlyphs" stroke="#1e1e24" stroke-width="0.45">14</text>
<text x="707.102" y="593.9" font-family="Liberation Sans" font-size="10.4" fill="#222" text-anchor="middle" font-weight="normal" textLength="19.4" lengthAdjust="spacingAndGlyphs" stroke="#222" stroke-width="0.15">23.4</text>
<text x="736.5939999999999" y="517.0" font-family="Liberation Sans" font-size="10.3" fill="#fff" text-anchor="middle" font-weight="normal" textLength="20.8" lengthAdjust="spacingAndGlyphs" stroke="#fff" stroke-width="0.35">1000</text>
<text x="736.5939999999999" y="537.2" font-family="Liberation Sans" font-size="9.8" fill="#222" text-anchor="middle" font-weight="normal" textLength="25.6" lengthAdjust="spacingAndGlyphs" stroke="#222" stroke-width="0.15">1283.5</text>
<text x="736.5939999999999" y="551.5" font-family="Liberation Sans" font-size="11" fill="#1e1e24" text-anchor="middle" font-weight="normal" textLength="17.1" lengthAdjust="spacingAndGlyphs" stroke="#1e1e24" stroke-width="0.45">150</text>
<text x="736.5939999999999" y="565.4" font-family="Liberation Sans" font-size="11" fill="#1e1e24" text-anchor="middle" font-weight="normal" textLength="5.7" lengthAdjust="spacingAndGlyphs" stroke="#1e1e24" stroke-width="0.45">4</text>
<text x="736.5939999999999" y="579.1" font-family="Liberation Sans" font-size="11" fill="#1e1e24" text-anchor="middle" font-weight="normal" textLength="11.4" lengthAdjust="spacingAndGlyphs" stroke="#1e1e24" stroke-width="0.45">14</text>
<text x="736.5939999999999" y="593.9" font-family="Liberation Sans" font-size="10.4" fill="#222" text-anchor="middle" font-weight="normal" textLength="25.0" lengthAdjust="spacingAndGlyphs" stroke="#222" stroke-width="0.15">24.18</text>
<text x="766.0859999999999" y="517.0" font-family="Liberation Sans" font-size="10.3" fill="#fff" text-anchor="middle" font-weight="normal" textLength="20.8" lengthAdjust="spacingAndGlyphs" stroke="#fff" stroke-width="0.35">1050</text>
<text x="766.0859999999999" y="537.2" font-family="Liberation Sans" font-size="9.8" fill="#222" text-anchor="middle" font-weight="normal" textLength="25.6" lengthAdjust="spacingAndGlyphs" stroke="#222" stroke-width="0.15">1333.5</text>
<text x="766.0859999999999" y="551.5" font-family="Liberation Sans" font-size="11" fill="#1e1e24" text-anchor="middle" font-weight="normal" textLength="17.1" lengthAdjust="spacingAndGlyphs" stroke="#1e1e24" stroke-width="0.45">200</text>
<text x="766.0859999999999" y="565.4" font-family="Liberation Sans" font-size="11" fill="#1e1e24" text-anchor="middle" font-weight="normal" textLength="5.7" lengthAdjust="spacingAndGlyphs" stroke="#1e1e24" stroke-width="0.45">4</text>
<text x="766.0859999999999" y="579.1" font-family="Liberation Sans" font-size="11" fill="#1e1e24" text-anchor="middle" font-weight="normal" textLength="11.4" lengthAdjust="spacingAndGlyphs" stroke="#1e1e24" stroke-width="0.45">14</text>
<text x="766.0859999999999" y="593.9" font-family="Liberation Sans" font-size="10.4" fill="#222" text-anchor="middle" font-weight="normal" textLength="25.0" lengthAdjust="spacingAndGlyphs" stroke="#222" stroke-width="0.15">24.95</text>
<text x="795.578" y="517.0" font-family="Liberation Sans" font-size="10.3" fill="#fff" text-anchor="middle" font-weight="normal" textLength="20.8" lengthAdjust="spacingAndGlyphs" stroke="#fff" stroke-width="0.35">1100</text>
<text x="795.578" y="537.2" font-family="Liberation Sans" font-size="9.8" fill="#222" text-anchor="middle" font-weight="normal" textLength="25.6" lengthAdjust="spacingAndGlyphs" stroke="#222" stroke-width="0.15">1383.5</text>
<text x="795.578" y="551.5" font-family="Liberation Sans" font-size="11" fill="#1e1e24" text-anchor="middle" font-weight="normal" textLength="11.4" lengthAdjust="spacingAndGlyphs" stroke="#1e1e24" stroke-width="0.45">50</text>
<text x="795.578" y="565.4" font-family="Liberation Sans" font-size="11" fill="#1e1e24" text-anchor="middle" font-weight="normal" textLength="5.7" lengthAdjust="spacingAndGlyphs" stroke="#1e1e24" stroke-width="0.45">5</text>
<text x="795.578" y="579.1" font-family="Liberation Sans" font-size="11" fill="#1e1e24" text-anchor="middle" font-weight="normal" textLength="11.4" lengthAdjust="spacingAndGlyphs" stroke="#1e1e24" stroke-width="0.45">16</text>
<text x="795.578" y="593.9" font-family="Liberation Sans" font-size="10.4" fill="#222" text-anchor="middle" font-weight="normal" textLength="25.0" lengthAdjust="spacingAndGlyphs" stroke="#222" stroke-width="0.15">25.72</text>
<text x="825.0699999999999" y="517.0" font-family="Liberation Sans" font-size="10.3" fill="#fff" text-anchor="middle" font-weight="normal" textLength="20.8" lengthAdjust="spacingAndGlyphs" stroke="#fff" stroke-width="0.35">1150</text>
<text x="825.0699999999999" y="537.2" font-family="Liberation Sans" font-size="9.8" fill="#222" text-anchor="middle" font-weight="normal" textLength="25.6" lengthAdjust="spacingAndGlyphs" stroke="#222" stroke-width="0.15">1433.5</text>
<text x="825.0699999999999" y="551.5" font-family="Liberation Sans" font-size="11" fill="#1e1e24" text-anchor="middle" font-weight="normal" textLength="17.1" lengthAdjust="spacingAndGlyphs" stroke="#1e1e24" stroke-width="0.45">100</text>
<text x="825.0699999999999" y="565.4" font-family="Liberation Sans" font-size="11" fill="#1e1e24" text-anchor="middle" font-weight="normal" textLength="5.7" lengthAdjust="spacingAndGlyphs" stroke="#1e1e24" stroke-width="0.45">5</text>
<text x="825.0699999999999" y="579.1" font-family="Liberation Sans" font-size="11" fill="#1e1e24" text-anchor="middle" font-weight="normal" textLength="11.4" lengthAdjust="spacingAndGlyphs" stroke="#1e1e24" stroke-width="0.45">16</text>
<text x="825.0699999999999" y="593.9" font-family="Liberation Sans" font-size="10.4" fill="#222" text-anchor="middle" font-weight="normal" textLength="25.0" lengthAdjust="spacingAndGlyphs" stroke="#222" stroke-width="0.15">26.49</text>
<text x="854.5619999999999" y="517.0" font-family="Liberation Sans" font-size="10.3" fill="#fff" text-anchor="middle" font-weight="normal" textLength="20.8" lengthAdjust="spacingAndGlyphs" stroke="#fff" stroke-width="0.35">1200</text>
<text x="854.5619999999999" y="537.2" font-family="Liberation Sans" font-size="9.8" fill="#222" text-anchor="middle" font-weight="normal" textLength="25.6" lengthAdjust="spacingAndGlyphs" stroke="#222" stroke-width="0.15">1483.5</text>
<text x="854.5619999999999" y="551.5" font-family="Liberation Sans" font-size="11" fill="#1e1e24" text-anchor="middle" font-weight="normal" textLength="17.1" lengthAdjust="spacingAndGlyphs" stroke="#1e1e24" stroke-width="0.45">150</text>
<text x="854.5619999999999" y="565.4" font-family="Liberation Sans" font-size="11" fill="#1e1e24" text-anchor="middle" font-weight="normal" textLength="5.7" lengthAdjust="spacingAndGlyphs" stroke="#1e1e24" stroke-width="0.45">5</text>
<text x="854.5619999999999" y="579.1" font-family="Liberation Sans" font-size="11" fill="#1e1e24" text-anchor="middle" font-weight="normal" textLength="11.4" lengthAdjust="spacingAndGlyphs" stroke="#1e1e24" stroke-width="0.45">16</text>
<text x="854.5619999999999" y="593.9" font-family="Liberation Sans" font-size="10.4" fill="#222" text-anchor="middle" font-weight="normal" textLength="25.0" lengthAdjust="spacingAndGlyphs" stroke="#222" stroke-width="0.15">27.26</text>
<text x="884.054" y="517.0" font-family="Liberation Sans" font-size="10.3" fill="#fff" text-anchor="middle" font-weight="normal" textLength="20.8" lengthAdjust="spacingAndGlyphs" stroke="#fff" stroke-width="0.35">1250</text>
<text x="884.054" y="537.2" font-family="Liberation Sans" font-size="9.8" fill="#222" text-anchor="middle" font-weight="normal" textLength="25.6" lengthAdjust="spacingAndGlyphs" stroke="#222" stroke-width="0.15">1533.5</text>
<text x="884.054" y="551.5" font-family="Liberation Sans" font-size="11" fill="#1e1e24" text-anchor="middle" font-weight="normal" textLength="17.1" lengthAdjust="spacingAndGlyphs" stroke="#1e1e24" stroke-width="0.45">200</text>
<text x="884.054" y="565.4" font-family="Liberation Sans" font-size="11" fill="#1e1e24" text-anchor="middle" font-weight="normal" textLength="5.7" lengthAdjust="spacingAndGlyphs" stroke="#1e1e24" stroke-width="0.45">5</text>
<text x="884.054" y="579.1" font-family="Liberation Sans" font-size="11" fill="#1e1e24" text-anchor="middle" font-weight="normal" textLength="11.4" lengthAdjust="spacingAndGlyphs" stroke="#1e1e24" stroke-width="0.45">16</text>
<text x="884.054" y="593.9" font-family="Liberation Sans" font-size="10.4" fill="#222" text-anchor="middle" font-weight="normal" textLength="25.0" lengthAdjust="spacingAndGlyphs" stroke="#222" stroke-width="0.15">28.03</text>
<text x="129.5" y="537.4" font-family="Liberation Sans" font-size="10.6" fill="#222" text-anchor="middle" font-weight="normal" textLength="5.2" lengthAdjust="spacingAndGlyphs" stroke="#222" stroke-width="0.2">L</text>
<text x="129.5" y="551.5" font-family="Liberation Sans" font-size="10.6" fill="#222" text-anchor="middle" font-weight="normal" textLength="6.8" lengthAdjust="spacingAndGlyphs" stroke="#222" stroke-width="0.2">A</text>
<text x="129.5" y="565.4" font-family="Liberation Sans" font-size="10.6" fill="#222" text-anchor="middle" font-weight="normal" textLength="7.8" lengthAdjust="spacingAndGlyphs" stroke="#222" stroke-width="0.2">M</text>
<text x="129.5" y="579.1" font-family="Liberation Sans" font-size="10.6" fill="#222" text-anchor="middle" font-weight="normal" textLength="6.8" lengthAdjust="spacingAndGlyphs" stroke="#222" stroke-width="0.2">N</text>
<text x="129.5" y="593.9" font-family="Liberation Sans" font-size="10.6" fill="#222" text-anchor="middle" font-weight="normal" textLength="13.2" lengthAdjust="spacingAndGlyphs" stroke="#222" stroke-width="0.2">KG</text>
</svg>
</body></html>
